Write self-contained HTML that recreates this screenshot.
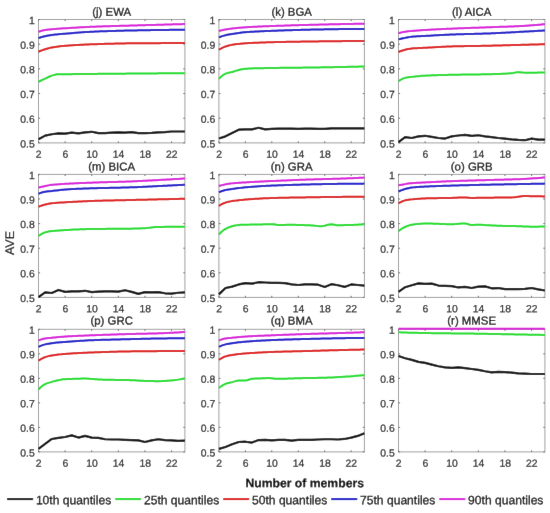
<!DOCTYPE html>
<html><head><meta charset="utf-8"><title>AVE vs Number of members</title>
<style>
html,body{margin:0;padding:0;background:#fff;}
body{width:550px;height:513px;overflow:hidden;font-family:"Liberation Sans",sans-serif;}
svg{display:block;}
</style></head><body>
<svg width="550" height="513" viewBox="0 0 550 513" font-family="Liberation Sans, sans-serif">
<defs><filter id="bl" x="0" y="0" width="550" height="513" filterUnits="userSpaceOnUse"><feConvolveMatrix order="3" kernelMatrix="0.00276 0.04704 0.00276 0.04704 0.80077 0.04704 0.00276 0.04704 0.00276" edgeMode="duplicate"/></filter></defs>
<g filter="url(#bl)">
<rect width="550" height="513" fill="#ffffff"/>
<g><rect x="38.5" y="19.5" width="146.4" height="123.4" fill="none" stroke="#a0a0a0" stroke-width="1"/><path d="M38.5 142.9v-1.6M38.5 19.5v1.6M65.12 142.9v-1.6M65.12 19.5v1.6M91.74 142.9v-1.6M91.74 19.5v1.6M118.35 142.9v-1.6M118.35 19.5v1.6M144.97 142.9v-1.6M144.97 19.5v1.6M171.59 142.9v-1.6M171.59 19.5v1.6M38.5 142.9h1.6M184.9 142.9h-1.6M38.5 118.22h1.6M184.9 118.22h-1.6M38.5 93.54h1.6M184.9 93.54h-1.6M38.5 68.86h1.6M184.9 68.86h-1.6M38.5 44.18h1.6M184.9 44.18h-1.6M38.5 19.5h1.6M184.9 19.5h-1.6" stroke="#6a6a6a" stroke-width="1" fill="none"/><path d="M38.50 139.24 L45.15 135.65 L51.81 134.26 L58.46 133.43 L65.12 133.71 L71.77 132.61 L78.43 133.43 L85.08 132.33 L91.74 131.78 L98.39 133.16 L105.05 133.16 L111.70 132.61 L118.35 132.33 L125.01 132.61 L131.66 132.05 L138.32 133.16 L144.97 133.16 L151.63 132.88 L158.28 132.33 L164.94 132.05 L171.59 131.50 L178.25 131.50 L184.90 131.50" stroke="#000000" stroke-width="2.2" fill="none" stroke-linejoin="round" stroke-linecap="butt"/><path d="M38.50 81.82 L40.16 80.99 L41.83 80.18 L43.49 79.39 L45.15 78.61 L46.82 77.81 L48.48 76.99 L50.15 76.24 L51.81 75.65 L53.47 75.14 L55.14 74.66 L56.80 74.31 L58.46 74.17 L60.13 74.17 L61.79 74.17 L63.45 74.17 L65.12 74.17 L66.78 74.16 L68.45 74.16 L70.11 74.15 L71.77 74.14 L73.44 74.12 L75.10 74.11 L76.76 74.09 L78.43 74.07 L80.09 74.05 L81.75 74.03 L83.42 74.01 L85.08 73.99 L86.75 73.97 L88.41 73.95 L90.07 73.93 L91.74 73.92 L93.40 73.90 L95.06 73.89 L96.73 73.88 L98.39 73.86 L100.05 73.85 L101.72 73.83 L103.38 73.82 L105.05 73.80 L106.71 73.79 L108.37 73.78 L110.04 73.76 L111.70 73.75 L113.36 73.73 L115.03 73.72 L116.69 73.71 L118.35 73.69 L120.02 73.68 L121.68 73.66 L123.35 73.65 L125.01 73.64 L126.67 73.62 L128.34 73.61 L130.00 73.60 L131.66 73.58 L133.33 73.57 L134.99 73.56 L136.65 73.54 L138.32 73.53 L139.98 73.52 L141.65 73.50 L143.31 73.49 L144.97 73.48 L146.64 73.46 L148.30 73.45 L149.96 73.44 L151.63 73.42 L153.29 73.41 L154.95 73.40 L156.62 73.39 L158.28 73.37 L159.95 73.36 L161.61 73.35 L163.27 73.33 L164.94 73.32 L166.60 73.31 L168.26 73.30 L169.93 73.29 L171.59 73.27 L173.25 73.26 L174.92 73.25 L176.58 73.24 L178.25 73.23 L179.91 73.21 L181.57 73.20 L183.24 73.19 L184.90 73.18" stroke="#12dc22" stroke-width="2.0" fill="none" stroke-linejoin="round" stroke-linecap="butt"/><path d="M38.50 51.71 L40.16 51.02 L41.83 50.37 L43.49 49.78 L45.15 49.24 L46.82 48.74 L48.48 48.27 L50.15 47.85 L51.81 47.51 L53.47 47.22 L55.14 46.96 L56.80 46.71 L58.46 46.48 L60.13 46.28 L61.79 46.09 L63.45 45.93 L65.12 45.78 L66.78 45.65 L68.45 45.53 L70.11 45.41 L71.77 45.29 L73.44 45.18 L75.10 45.08 L76.76 44.98 L78.43 44.89 L80.09 44.80 L81.75 44.72 L83.42 44.64 L85.08 44.56 L86.75 44.49 L88.41 44.43 L90.07 44.36 L91.74 44.30 L93.40 44.25 L95.06 44.19 L96.73 44.13 L98.39 44.08 L100.05 44.02 L101.72 43.97 L103.38 43.91 L105.05 43.86 L106.71 43.81 L108.37 43.77 L110.04 43.72 L111.70 43.67 L113.36 43.63 L115.03 43.59 L116.69 43.55 L118.35 43.52 L120.02 43.48 L121.68 43.45 L123.35 43.42 L125.01 43.39 L126.67 43.37 L128.34 43.35 L130.00 43.33 L131.66 43.32 L133.33 43.30 L134.99 43.29 L136.65 43.28 L138.32 43.26 L139.98 43.25 L141.65 43.24 L143.31 43.23 L144.97 43.22 L146.64 43.21 L148.30 43.20 L149.96 43.19 L151.63 43.18 L153.29 43.17 L154.95 43.16 L156.62 43.15 L158.28 43.14 L159.95 43.13 L161.61 43.12 L163.27 43.12 L164.94 43.11 L166.60 43.10 L168.26 43.10 L169.93 43.09 L171.59 43.09 L173.25 43.08 L174.92 43.08 L176.58 43.08 L178.25 43.07 L179.91 43.07 L181.57 43.07 L183.24 43.07 L184.90 43.07" stroke="#dc0a0a" stroke-width="2.0" fill="none" stroke-linejoin="round" stroke-linecap="butt"/><path d="M38.50 38.13 L40.16 37.57 L41.83 37.04 L43.49 36.57 L45.15 36.16 L46.82 35.79 L48.48 35.46 L50.15 35.17 L51.81 34.92 L53.47 34.72 L55.14 34.54 L56.80 34.38 L58.46 34.23 L60.13 34.09 L61.79 33.96 L63.45 33.83 L65.12 33.69 L66.78 33.55 L68.45 33.41 L70.11 33.27 L71.77 33.13 L73.44 32.99 L75.10 32.85 L76.76 32.71 L78.43 32.58 L80.09 32.45 L81.75 32.32 L83.42 32.20 L85.08 32.09 L86.75 31.98 L88.41 31.89 L90.07 31.80 L91.74 31.72 L93.40 31.64 L95.06 31.57 L96.73 31.50 L98.39 31.44 L100.05 31.37 L101.72 31.31 L103.38 31.25 L105.05 31.19 L106.71 31.13 L108.37 31.08 L110.04 31.02 L111.70 30.97 L113.36 30.92 L115.03 30.88 L116.69 30.83 L118.35 30.79 L120.02 30.74 L121.68 30.70 L123.35 30.66 L125.01 30.62 L126.67 30.59 L128.34 30.55 L130.00 30.52 L131.66 30.48 L133.33 30.45 L134.99 30.42 L136.65 30.39 L138.32 30.35 L139.98 30.32 L141.65 30.29 L143.31 30.26 L144.97 30.23 L146.64 30.20 L148.30 30.17 L149.96 30.14 L151.63 30.12 L153.29 30.09 L154.95 30.06 L156.62 30.04 L158.28 30.01 L159.95 29.99 L161.61 29.96 L163.27 29.94 L164.94 29.92 L166.60 29.90 L168.26 29.88 L169.93 29.86 L171.59 29.84 L173.25 29.82 L174.92 29.81 L176.58 29.79 L178.25 29.78 L179.91 29.77 L181.57 29.76 L183.24 29.75 L184.90 29.74" stroke="#0a0ac8" stroke-width="2.0" fill="none" stroke-linejoin="round" stroke-linecap="butt"/><path d="M38.50 31.72 L40.16 31.18 L41.83 30.70 L43.49 30.30 L45.15 29.99 L46.82 29.76 L48.48 29.56 L50.15 29.40 L51.81 29.25 L53.47 29.10 L55.14 28.96 L56.80 28.83 L58.46 28.71 L60.13 28.59 L61.79 28.48 L63.45 28.37 L65.12 28.26 L66.78 28.15 L68.45 28.05 L70.11 27.94 L71.77 27.84 L73.44 27.74 L75.10 27.64 L76.76 27.54 L78.43 27.44 L80.09 27.35 L81.75 27.26 L83.42 27.17 L85.08 27.08 L86.75 27.00 L88.41 26.92 L90.07 26.85 L91.74 26.78 L93.40 26.71 L95.06 26.65 L96.73 26.59 L98.39 26.53 L100.05 26.47 L101.72 26.42 L103.38 26.36 L105.05 26.31 L106.71 26.26 L108.37 26.21 L110.04 26.16 L111.70 26.11 L113.36 26.06 L115.03 26.01 L116.69 25.97 L118.35 25.92 L120.02 25.87 L121.68 25.83 L123.35 25.78 L125.01 25.74 L126.67 25.69 L128.34 25.64 L130.00 25.60 L131.66 25.55 L133.33 25.50 L134.99 25.45 L136.65 25.40 L138.32 25.35 L139.98 25.30 L141.65 25.26 L143.31 25.21 L144.97 25.16 L146.64 25.11 L148.30 25.07 L149.96 25.02 L151.63 24.97 L153.29 24.92 L154.95 24.88 L156.62 24.83 L158.28 24.78 L159.95 24.74 L161.61 24.69 L163.27 24.65 L164.94 24.60 L166.60 24.55 L168.26 24.51 L169.93 24.46 L171.59 24.42 L173.25 24.37 L174.92 24.33 L176.58 24.29 L178.25 24.24 L179.91 24.20 L181.57 24.15 L183.24 24.11 L184.90 24.07" stroke="#d80ad8" stroke-width="2.0" fill="none" stroke-linejoin="round" stroke-linecap="butt"/><text x="34.8" y="147.4" text-anchor="end" font-size="10.4" fill="#2a2a2a" stroke="#2a2a2a" stroke-width="0.25" transform="rotate(0.05 34.8 147.4)">0.5</text><text x="34.8" y="122.72" text-anchor="end" font-size="10.4" fill="#2a2a2a" stroke="#2a2a2a" stroke-width="0.25" transform="rotate(0.05 34.8 122.72)">0.6</text><text x="34.8" y="98.04" text-anchor="end" font-size="10.4" fill="#2a2a2a" stroke="#2a2a2a" stroke-width="0.25" transform="rotate(0.05 34.8 98.04)">0.7</text><text x="34.8" y="73.36" text-anchor="end" font-size="10.4" fill="#2a2a2a" stroke="#2a2a2a" stroke-width="0.25" transform="rotate(0.05 34.8 73.36)">0.8</text><text x="34.8" y="48.68" text-anchor="end" font-size="10.4" fill="#2a2a2a" stroke="#2a2a2a" stroke-width="0.25" transform="rotate(0.05 34.8 48.68)">0.9</text><text x="34.8" y="24" text-anchor="end" font-size="10.4" fill="#2a2a2a" stroke="#2a2a2a" stroke-width="0.25" transform="rotate(0.05 34.8 24)">1</text><text x="38.7" y="157.7" text-anchor="middle" font-size="10.4" fill="#2a2a2a" stroke="#2a2a2a" stroke-width="0.25" transform="rotate(0.05 38.7 157.7)">2</text><text x="65.32" y="157.7" text-anchor="middle" font-size="10.4" fill="#2a2a2a" stroke="#2a2a2a" stroke-width="0.25" transform="rotate(0.05 65.32 157.7)">6</text><text x="91.94" y="157.7" text-anchor="middle" font-size="10.4" fill="#2a2a2a" stroke="#2a2a2a" stroke-width="0.25" transform="rotate(0.05 91.94 157.7)">10</text><text x="118.55" y="157.7" text-anchor="middle" font-size="10.4" fill="#2a2a2a" stroke="#2a2a2a" stroke-width="0.25" transform="rotate(0.05 118.55 157.7)">14</text><text x="145.17" y="157.7" text-anchor="middle" font-size="10.4" fill="#2a2a2a" stroke="#2a2a2a" stroke-width="0.25" transform="rotate(0.05 145.17 157.7)">18</text><text x="171.79" y="157.7" text-anchor="middle" font-size="10.4" fill="#2a2a2a" stroke="#2a2a2a" stroke-width="0.25" transform="rotate(0.05 171.79 157.7)">22</text><text x="111.7" y="15.7" text-anchor="middle" font-size="11.4" fill="#111111" stroke="#111111" stroke-width="0.3" transform="rotate(0.05 111.7 15.7)">(j) EWA</text></g>
<g><rect x="218.9" y="19.5" width="145.5" height="123.4" fill="none" stroke="#a0a0a0" stroke-width="1"/><path d="M218.9 142.9v-1.6M218.9 19.5v1.6M245.35 142.9v-1.6M245.35 19.5v1.6M271.81 142.9v-1.6M271.81 19.5v1.6M298.26 142.9v-1.6M298.26 19.5v1.6M324.72 142.9v-1.6M324.72 19.5v1.6M351.17 142.9v-1.6M351.17 19.5v1.6M218.9 142.9h1.6M364.4 142.9h-1.6M218.9 118.22h1.6M364.4 118.22h-1.6M218.9 93.54h1.6M364.4 93.54h-1.6M218.9 68.86h1.6M364.4 68.86h-1.6M218.9 44.18h1.6M364.4 44.18h-1.6M218.9 19.5h1.6M364.4 19.5h-1.6" stroke="#6a6a6a" stroke-width="1" fill="none"/><path d="M218.90 138.56 L225.51 136.34 L232.13 133.03 L238.74 129.71 L245.35 129.43 L251.97 129.43 L258.58 127.78 L265.20 129.43 L271.81 128.88 L278.42 128.61 L285.04 128.61 L291.65 128.61 L298.26 128.88 L304.88 128.61 L311.49 128.61 L318.10 128.88 L324.72 128.88 L331.33 128.33 L337.95 128.33 L344.56 128.33 L351.17 128.33 L357.79 128.33 L364.40 128.33" stroke="#000000" stroke-width="2.2" fill="none" stroke-linejoin="round" stroke-linecap="butt"/><path d="M218.90 78.86 L220.55 77.20 L222.21 75.72 L223.86 74.52 L225.51 73.67 L227.17 73.12 L228.82 72.72 L230.47 72.35 L232.13 71.94 L233.78 71.45 L235.43 70.92 L237.09 70.41 L238.74 69.97 L240.39 69.58 L242.05 69.21 L243.70 68.91 L245.35 68.74 L247.01 68.65 L248.66 68.57 L250.31 68.49 L251.97 68.43 L253.62 68.37 L255.28 68.32 L256.93 68.28 L258.58 68.24 L260.24 68.20 L261.89 68.17 L263.54 68.14 L265.20 68.11 L266.85 68.08 L268.50 68.05 L270.16 68.02 L271.81 68.00 L273.46 67.97 L275.12 67.94 L276.77 67.92 L278.42 67.89 L280.08 67.87 L281.73 67.85 L283.38 67.83 L285.04 67.81 L286.69 67.79 L288.34 67.77 L290.00 67.75 L291.65 67.74 L293.30 67.72 L294.96 67.70 L296.61 67.68 L298.26 67.67 L299.92 67.65 L301.57 67.63 L303.22 67.61 L304.88 67.59 L306.53 67.57 L308.18 67.55 L309.84 67.53 L311.49 67.50 L313.14 67.48 L314.80 67.45 L316.45 67.43 L318.10 67.40 L319.76 67.38 L321.41 67.35 L323.06 67.32 L324.72 67.29 L326.37 67.27 L328.02 67.24 L329.68 67.21 L331.33 67.18 L332.99 67.15 L334.64 67.12 L336.29 67.09 L337.95 67.06 L339.60 67.03 L341.25 67.00 L342.91 66.96 L344.56 66.93 L346.21 66.90 L347.87 66.87 L349.52 66.83 L351.17 66.80 L352.83 66.76 L354.48 66.73 L356.13 66.69 L357.79 66.66 L359.44 66.62 L361.09 66.59 L362.75 66.55 L364.40 66.52" stroke="#12dc22" stroke-width="2.0" fill="none" stroke-linejoin="round" stroke-linecap="butt"/><path d="M218.90 49.73 L220.55 48.78 L222.21 47.92 L223.86 47.16 L225.51 46.52 L227.17 45.99 L228.82 45.52 L230.47 45.11 L232.13 44.80 L233.78 44.54 L235.43 44.30 L237.09 44.09 L238.74 43.89 L240.39 43.72 L242.05 43.57 L243.70 43.43 L245.35 43.32 L247.01 43.21 L248.66 43.12 L250.31 43.02 L251.97 42.94 L253.62 42.85 L255.28 42.78 L256.93 42.70 L258.58 42.64 L260.24 42.57 L261.89 42.51 L263.54 42.45 L265.20 42.40 L266.85 42.35 L268.50 42.30 L270.16 42.25 L271.81 42.21 L273.46 42.16 L275.12 42.12 L276.77 42.08 L278.42 42.04 L280.08 42.00 L281.73 41.97 L283.38 41.93 L285.04 41.89 L286.69 41.86 L288.34 41.83 L290.00 41.80 L291.65 41.77 L293.30 41.74 L294.96 41.71 L296.61 41.68 L298.26 41.65 L299.92 41.63 L301.57 41.60 L303.22 41.58 L304.88 41.55 L306.53 41.53 L308.18 41.51 L309.84 41.49 L311.49 41.47 L313.14 41.44 L314.80 41.42 L316.45 41.40 L318.10 41.38 L319.76 41.36 L321.41 41.34 L323.06 41.32 L324.72 41.30 L326.37 41.28 L328.02 41.27 L329.68 41.25 L331.33 41.23 L332.99 41.21 L334.64 41.19 L336.29 41.18 L337.95 41.16 L339.60 41.15 L341.25 41.13 L342.91 41.11 L344.56 41.10 L346.21 41.09 L347.87 41.07 L349.52 41.06 L351.17 41.05 L352.83 41.04 L354.48 41.02 L356.13 41.01 L357.79 41.00 L359.44 40.99 L361.09 40.99 L362.75 40.98 L364.40 40.97" stroke="#dc0a0a" stroke-width="2.0" fill="none" stroke-linejoin="round" stroke-linecap="butt"/><path d="M218.90 37.39 L220.55 36.74 L222.21 36.14 L223.86 35.61 L225.51 35.17 L227.17 34.80 L228.82 34.49 L230.47 34.20 L232.13 33.94 L233.78 33.68 L235.43 33.42 L237.09 33.18 L238.74 32.94 L240.39 32.72 L242.05 32.53 L243.70 32.35 L245.35 32.21 L247.01 32.09 L248.66 31.97 L250.31 31.86 L251.97 31.76 L253.62 31.66 L255.28 31.57 L256.93 31.49 L258.58 31.41 L260.24 31.33 L261.89 31.25 L263.54 31.18 L265.20 31.12 L266.85 31.05 L268.50 30.98 L270.16 30.92 L271.81 30.85 L273.46 30.79 L275.12 30.72 L276.77 30.66 L278.42 30.60 L280.08 30.54 L281.73 30.48 L283.38 30.42 L285.04 30.36 L286.69 30.30 L288.34 30.25 L290.00 30.19 L291.65 30.14 L293.30 30.09 L294.96 30.04 L296.61 29.99 L298.26 29.94 L299.92 29.89 L301.57 29.85 L303.22 29.81 L304.88 29.76 L306.53 29.73 L308.18 29.69 L309.84 29.65 L311.49 29.62 L313.14 29.59 L314.80 29.55 L316.45 29.52 L318.10 29.49 L319.76 29.46 L321.41 29.43 L323.06 29.40 L324.72 29.37 L326.37 29.34 L328.02 29.31 L329.68 29.28 L331.33 29.25 L332.99 29.22 L334.64 29.20 L336.29 29.17 L337.95 29.15 L339.60 29.12 L341.25 29.10 L342.91 29.08 L344.56 29.05 L346.21 29.03 L347.87 29.01 L349.52 28.99 L351.17 28.98 L352.83 28.96 L354.48 28.94 L356.13 28.93 L357.79 28.92 L359.44 28.91 L361.09 28.90 L362.75 28.89 L364.40 28.88" stroke="#0a0ac8" stroke-width="2.0" fill="none" stroke-linejoin="round" stroke-linecap="butt"/><path d="M218.90 30.98 L220.55 30.56 L222.21 30.17 L223.86 29.81 L225.51 29.50 L227.17 29.21 L228.82 28.95 L230.47 28.72 L232.13 28.51 L233.78 28.32 L235.43 28.14 L237.09 27.96 L238.74 27.80 L240.39 27.65 L242.05 27.51 L243.70 27.39 L245.35 27.27 L247.01 27.17 L248.66 27.07 L250.31 26.98 L251.97 26.89 L253.62 26.80 L255.28 26.72 L256.93 26.64 L258.58 26.57 L260.24 26.50 L261.89 26.43 L263.54 26.36 L265.20 26.29 L266.85 26.23 L268.50 26.17 L270.16 26.10 L271.81 26.04 L273.46 25.98 L275.12 25.92 L276.77 25.86 L278.42 25.80 L280.08 25.74 L281.73 25.68 L283.38 25.63 L285.04 25.57 L286.69 25.52 L288.34 25.46 L290.00 25.41 L291.65 25.36 L293.30 25.31 L294.96 25.26 L296.61 25.21 L298.26 25.16 L299.92 25.12 L301.57 25.07 L303.22 25.02 L304.88 24.98 L306.53 24.93 L308.18 24.89 L309.84 24.85 L311.49 24.81 L313.14 24.76 L314.80 24.72 L316.45 24.68 L318.10 24.64 L319.76 24.60 L321.41 24.56 L323.06 24.52 L324.72 24.48 L326.37 24.44 L328.02 24.40 L329.68 24.37 L331.33 24.33 L332.99 24.29 L334.64 24.26 L336.29 24.22 L337.95 24.18 L339.60 24.15 L341.25 24.11 L342.91 24.08 L344.56 24.05 L346.21 24.01 L347.87 23.98 L349.52 23.95 L351.17 23.92 L352.83 23.89 L354.48 23.86 L356.13 23.83 L357.79 23.80 L359.44 23.77 L361.09 23.75 L362.75 23.72 L364.40 23.70" stroke="#d80ad8" stroke-width="2.0" fill="none" stroke-linejoin="round" stroke-linecap="butt"/><text x="215.2" y="147.4" text-anchor="end" font-size="10.4" fill="#2a2a2a" stroke="#2a2a2a" stroke-width="0.25" transform="rotate(0.05 215.2 147.4)">0.5</text><text x="215.2" y="122.72" text-anchor="end" font-size="10.4" fill="#2a2a2a" stroke="#2a2a2a" stroke-width="0.25" transform="rotate(0.05 215.2 122.72)">0.6</text><text x="215.2" y="98.04" text-anchor="end" font-size="10.4" fill="#2a2a2a" stroke="#2a2a2a" stroke-width="0.25" transform="rotate(0.05 215.2 98.04)">0.7</text><text x="215.2" y="73.36" text-anchor="end" font-size="10.4" fill="#2a2a2a" stroke="#2a2a2a" stroke-width="0.25" transform="rotate(0.05 215.2 73.36)">0.8</text><text x="215.2" y="48.68" text-anchor="end" font-size="10.4" fill="#2a2a2a" stroke="#2a2a2a" stroke-width="0.25" transform="rotate(0.05 215.2 48.68)">0.9</text><text x="215.2" y="24" text-anchor="end" font-size="10.4" fill="#2a2a2a" stroke="#2a2a2a" stroke-width="0.25" transform="rotate(0.05 215.2 24)">1</text><text x="219.1" y="157.7" text-anchor="middle" font-size="10.4" fill="#2a2a2a" stroke="#2a2a2a" stroke-width="0.25" transform="rotate(0.05 219.1 157.7)">2</text><text x="245.55" y="157.7" text-anchor="middle" font-size="10.4" fill="#2a2a2a" stroke="#2a2a2a" stroke-width="0.25" transform="rotate(0.05 245.55 157.7)">6</text><text x="272.01" y="157.7" text-anchor="middle" font-size="10.4" fill="#2a2a2a" stroke="#2a2a2a" stroke-width="0.25" transform="rotate(0.05 272.01 157.7)">10</text><text x="298.46" y="157.7" text-anchor="middle" font-size="10.4" fill="#2a2a2a" stroke="#2a2a2a" stroke-width="0.25" transform="rotate(0.05 298.46 157.7)">14</text><text x="324.92" y="157.7" text-anchor="middle" font-size="10.4" fill="#2a2a2a" stroke="#2a2a2a" stroke-width="0.25" transform="rotate(0.05 324.92 157.7)">18</text><text x="351.37" y="157.7" text-anchor="middle" font-size="10.4" fill="#2a2a2a" stroke="#2a2a2a" stroke-width="0.25" transform="rotate(0.05 351.37 157.7)">22</text><text x="291.65" y="15.7" text-anchor="middle" font-size="11.4" fill="#111111" stroke="#111111" stroke-width="0.3" transform="rotate(0.05 291.65 15.7)">(k) BGA</text></g>
<g><rect x="398.5" y="19.5" width="146.4" height="123.4" fill="none" stroke="#a0a0a0" stroke-width="1"/><path d="M398.5 142.9v-1.6M398.5 19.5v1.6M425.12 142.9v-1.6M425.12 19.5v1.6M451.74 142.9v-1.6M451.74 19.5v1.6M478.35 142.9v-1.6M478.35 19.5v1.6M504.97 142.9v-1.6M504.97 19.5v1.6M531.59 142.9v-1.6M531.59 19.5v1.6M398.5 142.9h1.6M544.9 142.9h-1.6M398.5 118.22h1.6M544.9 118.22h-1.6M398.5 93.54h1.6M544.9 93.54h-1.6M398.5 68.86h1.6M544.9 68.86h-1.6M398.5 44.18h1.6M544.9 44.18h-1.6M398.5 19.5h1.6M544.9 19.5h-1.6" stroke="#6a6a6a" stroke-width="1" fill="none"/><path d="M398.50 142.15 L405.15 137.17 L411.81 138.00 L418.46 136.34 L425.12 135.79 L431.77 136.90 L438.43 138.00 L445.08 138.56 L451.74 136.34 L458.39 135.52 L465.05 134.96 L471.70 135.79 L478.35 135.24 L485.01 136.34 L491.66 137.17 L498.32 138.00 L504.97 138.56 L511.63 139.39 L518.28 139.94 L524.94 140.21 L531.59 138.56 L538.25 139.66 L544.90 139.66" stroke="#000000" stroke-width="2.2" fill="none" stroke-linejoin="round" stroke-linecap="butt"/><path d="M398.50 81.08 L400.16 80.04 L401.83 79.12 L403.49 78.38 L405.15 77.87 L406.82 77.54 L408.48 77.28 L410.15 77.07 L411.81 76.88 L413.47 76.69 L415.14 76.50 L416.80 76.32 L418.46 76.15 L420.13 76.00 L421.79 75.86 L423.45 75.74 L425.12 75.65 L426.78 75.57 L428.45 75.49 L430.11 75.42 L431.77 75.35 L433.44 75.29 L435.10 75.23 L436.76 75.17 L438.43 75.12 L440.09 75.07 L441.75 75.02 L443.42 74.98 L445.08 74.94 L446.75 74.89 L448.41 74.86 L450.07 74.82 L451.74 74.78 L453.40 74.75 L455.06 74.72 L456.73 74.69 L458.39 74.66 L460.05 74.64 L461.72 74.61 L463.38 74.59 L465.05 74.57 L466.71 74.55 L468.37 74.53 L470.04 74.51 L471.70 74.49 L473.36 74.47 L475.03 74.45 L476.69 74.43 L478.35 74.41 L480.02 74.39 L481.68 74.36 L483.35 74.34 L485.01 74.31 L486.67 74.28 L488.34 74.24 L490.00 74.21 L491.66 74.17 L493.33 74.12 L494.99 74.07 L496.65 74.02 L498.32 73.96 L499.98 73.89 L501.65 73.81 L503.31 73.73 L504.97 73.64 L506.64 73.54 L508.30 73.43 L509.96 73.31 L511.63 73.18 L513.29 72.95 L514.95 72.62 L516.62 72.32 L518.28 72.19 L519.95 72.27 L521.61 72.44 L523.27 72.61 L524.94 72.69 L526.60 72.69 L528.26 72.69 L529.93 72.69 L531.59 72.69 L533.25 72.68 L534.92 72.67 L536.58 72.64 L538.25 72.61 L539.91 72.58 L541.57 72.54 L543.24 72.49 L544.90 72.44" stroke="#12dc22" stroke-width="2.0" fill="none" stroke-linejoin="round" stroke-linecap="butt"/><path d="M398.50 51.95 L400.16 51.30 L401.83 50.70 L403.49 50.18 L405.15 49.73 L406.82 49.35 L408.48 48.99 L410.15 48.70 L411.81 48.50 L413.47 48.36 L415.14 48.25 L416.80 48.15 L418.46 48.07 L420.13 47.99 L421.79 47.92 L423.45 47.84 L425.12 47.76 L426.78 47.67 L428.45 47.57 L430.11 47.48 L431.77 47.38 L433.44 47.28 L435.10 47.19 L436.76 47.09 L438.43 47.00 L440.09 46.90 L441.75 46.82 L443.42 46.73 L445.08 46.65 L446.75 46.58 L448.41 46.51 L450.07 46.45 L451.74 46.40 L453.40 46.36 L455.06 46.31 L456.73 46.27 L458.39 46.24 L460.05 46.20 L461.72 46.17 L463.38 46.14 L465.05 46.11 L466.71 46.08 L468.37 46.05 L470.04 46.03 L471.70 46.00 L473.36 45.98 L475.03 45.95 L476.69 45.93 L478.35 45.90 L480.02 45.88 L481.68 45.85 L483.35 45.82 L485.01 45.79 L486.67 45.76 L488.34 45.73 L490.00 45.70 L491.66 45.66 L493.33 45.62 L494.99 45.58 L496.65 45.54 L498.32 45.49 L499.98 45.45 L501.65 45.40 L503.31 45.35 L504.97 45.30 L506.64 45.25 L508.30 45.20 L509.96 45.16 L511.63 45.11 L513.29 45.06 L514.95 45.01 L516.62 44.97 L518.28 44.92 L519.95 44.88 L521.61 44.83 L523.27 44.79 L524.94 44.75 L526.60 44.70 L528.26 44.66 L529.93 44.62 L531.59 44.58 L533.25 44.54 L534.92 44.50 L536.58 44.45 L538.25 44.41 L539.91 44.37 L541.57 44.33 L543.24 44.29 L544.90 44.25" stroke="#dc0a0a" stroke-width="2.0" fill="none" stroke-linejoin="round" stroke-linecap="butt"/><path d="M398.50 39.37 L400.16 38.97 L401.83 38.59 L403.49 38.23 L405.15 37.89 L406.82 37.53 L408.48 37.18 L410.15 36.87 L411.81 36.65 L413.47 36.51 L415.14 36.40 L416.80 36.30 L418.46 36.22 L420.13 36.14 L421.79 36.07 L423.45 36.00 L425.12 35.91 L426.78 35.82 L428.45 35.73 L430.11 35.64 L431.77 35.55 L433.44 35.46 L435.10 35.37 L436.76 35.28 L438.43 35.19 L440.09 35.10 L441.75 35.01 L443.42 34.93 L445.08 34.85 L446.75 34.77 L448.41 34.69 L450.07 34.62 L451.74 34.55 L453.40 34.49 L455.06 34.43 L456.73 34.37 L458.39 34.32 L460.05 34.27 L461.72 34.22 L463.38 34.17 L465.05 34.12 L466.71 34.07 L468.37 34.03 L470.04 33.98 L471.70 33.94 L473.36 33.89 L475.03 33.85 L476.69 33.80 L478.35 33.76 L480.02 33.71 L481.68 33.66 L483.35 33.61 L485.01 33.56 L486.67 33.50 L488.34 33.44 L490.00 33.38 L491.66 33.32 L493.33 33.25 L494.99 33.18 L496.65 33.11 L498.32 33.03 L499.98 32.95 L501.65 32.86 L503.31 32.78 L504.97 32.69 L506.64 32.60 L508.30 32.51 L509.96 32.42 L511.63 32.33 L513.29 32.23 L514.95 32.14 L516.62 32.05 L518.28 31.96 L519.95 31.87 L521.61 31.79 L523.27 31.70 L524.94 31.61 L526.60 31.51 L528.26 31.42 L529.93 31.33 L531.59 31.24 L533.25 31.15 L534.92 31.05 L536.58 30.96 L538.25 30.86 L539.91 30.77 L541.57 30.67 L543.24 30.58 L544.90 30.48" stroke="#0a0ac8" stroke-width="2.0" fill="none" stroke-linejoin="round" stroke-linecap="butt"/><path d="M398.50 33.20 L400.16 32.75 L401.83 32.35 L403.49 32.00 L405.15 31.72 L406.82 31.49 L408.48 31.30 L410.15 31.13 L411.81 30.98 L413.47 30.83 L415.14 30.69 L416.80 30.56 L418.46 30.43 L420.13 30.32 L421.79 30.20 L423.45 30.09 L425.12 29.99 L426.78 29.89 L428.45 29.79 L430.11 29.69 L431.77 29.60 L433.44 29.51 L435.10 29.42 L436.76 29.33 L438.43 29.25 L440.09 29.17 L441.75 29.09 L443.42 29.01 L445.08 28.93 L446.75 28.85 L448.41 28.78 L450.07 28.70 L451.74 28.63 L453.40 28.56 L455.06 28.49 L456.73 28.42 L458.39 28.36 L460.05 28.29 L461.72 28.23 L463.38 28.16 L465.05 28.10 L466.71 28.04 L468.37 27.98 L470.04 27.92 L471.70 27.86 L473.36 27.80 L475.03 27.74 L476.69 27.68 L478.35 27.63 L480.02 27.57 L481.68 27.51 L483.35 27.45 L485.01 27.39 L486.67 27.33 L488.34 27.27 L490.00 27.21 L491.66 27.15 L493.33 27.09 L494.99 27.03 L496.65 26.98 L498.32 26.92 L499.98 26.86 L501.65 26.81 L503.31 26.75 L504.97 26.70 L506.64 26.64 L508.30 26.58 L509.96 26.52 L511.63 26.46 L513.29 26.39 L514.95 26.32 L516.62 26.24 L518.28 26.16 L519.95 26.08 L521.61 25.99 L523.27 25.89 L524.94 25.79 L526.60 25.68 L528.26 25.56 L529.93 25.44 L531.59 25.32 L533.25 25.19 L534.92 25.06 L536.58 24.92 L538.25 24.78 L539.91 24.64 L541.57 24.49 L543.24 24.34 L544.90 24.19" stroke="#d80ad8" stroke-width="2.0" fill="none" stroke-linejoin="round" stroke-linecap="butt"/><text x="394.8" y="147.4" text-anchor="end" font-size="10.4" fill="#2a2a2a" stroke="#2a2a2a" stroke-width="0.25" transform="rotate(0.05 394.8 147.4)">0.5</text><text x="394.8" y="122.72" text-anchor="end" font-size="10.4" fill="#2a2a2a" stroke="#2a2a2a" stroke-width="0.25" transform="rotate(0.05 394.8 122.72)">0.6</text><text x="394.8" y="98.04" text-anchor="end" font-size="10.4" fill="#2a2a2a" stroke="#2a2a2a" stroke-width="0.25" transform="rotate(0.05 394.8 98.04)">0.7</text><text x="394.8" y="73.36" text-anchor="end" font-size="10.4" fill="#2a2a2a" stroke="#2a2a2a" stroke-width="0.25" transform="rotate(0.05 394.8 73.36)">0.8</text><text x="394.8" y="48.68" text-anchor="end" font-size="10.4" fill="#2a2a2a" stroke="#2a2a2a" stroke-width="0.25" transform="rotate(0.05 394.8 48.68)">0.9</text><text x="394.8" y="24" text-anchor="end" font-size="10.4" fill="#2a2a2a" stroke="#2a2a2a" stroke-width="0.25" transform="rotate(0.05 394.8 24)">1</text><text x="398.7" y="157.7" text-anchor="middle" font-size="10.4" fill="#2a2a2a" stroke="#2a2a2a" stroke-width="0.25" transform="rotate(0.05 398.7 157.7)">2</text><text x="425.32" y="157.7" text-anchor="middle" font-size="10.4" fill="#2a2a2a" stroke="#2a2a2a" stroke-width="0.25" transform="rotate(0.05 425.32 157.7)">6</text><text x="451.94" y="157.7" text-anchor="middle" font-size="10.4" fill="#2a2a2a" stroke="#2a2a2a" stroke-width="0.25" transform="rotate(0.05 451.94 157.7)">10</text><text x="478.55" y="157.7" text-anchor="middle" font-size="10.4" fill="#2a2a2a" stroke="#2a2a2a" stroke-width="0.25" transform="rotate(0.05 478.55 157.7)">14</text><text x="505.17" y="157.7" text-anchor="middle" font-size="10.4" fill="#2a2a2a" stroke="#2a2a2a" stroke-width="0.25" transform="rotate(0.05 505.17 157.7)">18</text><text x="531.79" y="157.7" text-anchor="middle" font-size="10.4" fill="#2a2a2a" stroke="#2a2a2a" stroke-width="0.25" transform="rotate(0.05 531.79 157.7)">22</text><text x="471.7" y="15.7" text-anchor="middle" font-size="11.4" fill="#111111" stroke="#111111" stroke-width="0.3" transform="rotate(0.05 471.7 15.7)">(l) AICA</text></g>
<g><rect x="38.5" y="174.4" width="146.4" height="123" fill="none" stroke="#a0a0a0" stroke-width="1"/><path d="M38.5 297.4v-1.6M38.5 174.4v1.6M65.12 297.4v-1.6M65.12 174.4v1.6M91.74 297.4v-1.6M91.74 174.4v1.6M118.35 297.4v-1.6M118.35 174.4v1.6M144.97 297.4v-1.6M144.97 174.4v1.6M171.59 297.4v-1.6M171.59 174.4v1.6M38.5 297.4h1.6M184.9 297.4h-1.6M38.5 272.8h1.6M184.9 272.8h-1.6M38.5 248.2h1.6M184.9 248.2h-1.6M38.5 223.6h1.6M184.9 223.6h-1.6M38.5 199h1.6M184.9 199h-1.6M38.5 174.4h1.6M184.9 174.4h-1.6" stroke="#6a6a6a" stroke-width="1" fill="none"/><path d="M38.50 297.15 L45.15 292.45 L51.81 293.00 L58.46 289.96 L65.12 291.90 L71.77 291.34 L78.43 291.34 L85.08 290.79 L91.74 292.17 L98.39 291.62 L105.05 291.34 L111.70 291.34 L118.35 291.62 L125.01 290.24 L131.66 291.90 L138.32 293.83 L144.97 292.17 L151.63 292.45 L158.28 292.17 L164.94 293.28 L171.59 293.55 L178.25 292.73 L184.90 292.45" stroke="#000000" stroke-width="2.2" fill="none" stroke-linejoin="round" stroke-linecap="butt"/><path d="M38.50 236.02 L40.16 234.84 L41.83 233.79 L43.49 232.94 L45.15 232.33 L46.82 231.92 L48.48 231.58 L50.15 231.31 L51.81 231.10 L53.47 230.93 L55.14 230.78 L56.80 230.65 L58.46 230.53 L60.13 230.42 L61.79 230.32 L63.45 230.22 L65.12 230.12 L66.78 230.01 L68.45 229.91 L70.11 229.81 L71.77 229.71 L73.44 229.61 L75.10 229.53 L76.76 229.45 L78.43 229.38 L80.09 229.32 L81.75 229.26 L83.42 229.21 L85.08 229.16 L86.75 229.11 L88.41 229.07 L90.07 229.04 L91.74 229.01 L93.40 228.99 L95.06 228.97 L96.73 228.95 L98.39 228.93 L100.05 228.91 L101.72 228.90 L103.38 228.89 L105.05 228.88 L106.71 228.86 L108.37 228.85 L110.04 228.84 L111.70 228.83 L113.36 228.82 L115.03 228.81 L116.69 228.80 L118.35 228.79 L120.02 228.78 L121.68 228.76 L123.35 228.75 L125.01 228.73 L126.67 228.71 L128.34 228.69 L130.00 228.67 L131.66 228.64 L133.33 228.61 L134.99 228.57 L136.65 228.52 L138.32 228.46 L139.98 228.39 L141.65 228.32 L143.31 228.24 L144.97 228.15 L146.64 228.03 L148.30 227.87 L149.96 227.67 L151.63 227.46 L153.29 227.27 L154.95 227.10 L156.62 226.98 L158.28 226.92 L159.95 226.91 L161.61 226.89 L163.27 226.88 L164.94 226.87 L166.60 226.85 L168.26 226.84 L169.93 226.83 L171.59 226.83 L173.25 226.82 L174.92 226.81 L176.58 226.81 L178.25 226.81 L179.91 226.80 L181.57 226.80 L183.24 226.80 L184.90 226.80" stroke="#12dc22" stroke-width="2.0" fill="none" stroke-linejoin="round" stroke-linecap="butt"/><path d="M38.50 206.75 L40.16 206.10 L41.83 205.50 L43.49 204.98 L45.15 204.53 L46.82 204.16 L48.48 203.81 L50.15 203.53 L51.81 203.30 L53.47 203.13 L55.14 202.98 L56.80 202.85 L58.46 202.73 L60.13 202.62 L61.79 202.52 L63.45 202.42 L65.12 202.32 L66.78 202.22 L68.45 202.12 L70.11 202.02 L71.77 201.92 L73.44 201.83 L75.10 201.73 L76.76 201.64 L78.43 201.55 L80.09 201.47 L81.75 201.38 L83.42 201.31 L85.08 201.23 L86.75 201.16 L88.41 201.09 L90.07 201.03 L91.74 200.97 L93.40 200.91 L95.06 200.86 L96.73 200.81 L98.39 200.76 L100.05 200.71 L101.72 200.67 L103.38 200.62 L105.05 200.58 L106.71 200.54 L108.37 200.50 L110.04 200.46 L111.70 200.43 L113.36 200.39 L115.03 200.35 L116.69 200.32 L118.35 200.28 L120.02 200.24 L121.68 200.21 L123.35 200.17 L125.01 200.14 L126.67 200.10 L128.34 200.06 L130.00 200.02 L131.66 199.98 L133.33 199.94 L134.99 199.91 L136.65 199.87 L138.32 199.83 L139.98 199.79 L141.65 199.75 L143.31 199.71 L144.97 199.67 L146.64 199.64 L148.30 199.60 L149.96 199.56 L151.63 199.52 L153.29 199.48 L154.95 199.45 L156.62 199.41 L158.28 199.37 L159.95 199.33 L161.61 199.29 L163.27 199.25 L164.94 199.22 L166.60 199.18 L168.26 199.14 L169.93 199.10 L171.59 199.06 L173.25 199.02 L174.92 198.98 L176.58 198.95 L178.25 198.91 L179.91 198.87 L181.57 198.83 L183.24 198.79 L184.90 198.75" stroke="#dc0a0a" stroke-width="2.0" fill="none" stroke-linejoin="round" stroke-linecap="butt"/><path d="M38.50 193.71 L40.16 193.09 L41.83 192.54 L43.49 192.08 L45.15 191.74 L46.82 191.51 L48.48 191.33 L50.15 191.17 L51.81 191.00 L53.47 190.81 L55.14 190.61 L56.80 190.40 L58.46 190.20 L60.13 190.00 L61.79 189.82 L63.45 189.66 L65.12 189.53 L66.78 189.42 L68.45 189.31 L70.11 189.22 L71.77 189.12 L73.44 189.03 L75.10 188.95 L76.76 188.87 L78.43 188.80 L80.09 188.72 L81.75 188.66 L83.42 188.59 L85.08 188.53 L86.75 188.47 L88.41 188.41 L90.07 188.35 L91.74 188.30 L93.40 188.25 L95.06 188.20 L96.73 188.15 L98.39 188.10 L100.05 188.06 L101.72 188.02 L103.38 187.98 L105.05 187.95 L106.71 187.91 L108.37 187.88 L110.04 187.84 L111.70 187.81 L113.36 187.77 L115.03 187.74 L116.69 187.70 L118.35 187.67 L120.02 187.63 L121.68 187.59 L123.35 187.55 L125.01 187.51 L126.67 187.46 L128.34 187.42 L130.00 187.37 L131.66 187.31 L133.33 187.26 L134.99 187.20 L136.65 187.13 L138.32 187.06 L139.98 186.99 L141.65 186.91 L143.31 186.83 L144.97 186.75 L146.64 186.67 L148.30 186.59 L149.96 186.50 L151.63 186.42 L153.29 186.33 L154.95 186.25 L156.62 186.17 L158.28 186.08 L159.95 186.00 L161.61 185.92 L163.27 185.84 L164.94 185.76 L166.60 185.68 L168.26 185.59 L169.93 185.51 L171.59 185.42 L173.25 185.34 L174.92 185.25 L176.58 185.17 L178.25 185.08 L179.91 185.00 L181.57 184.91 L183.24 184.82 L184.90 184.73" stroke="#0a0ac8" stroke-width="2.0" fill="none" stroke-linejoin="round" stroke-linecap="butt"/><path d="M38.50 187.56 L40.16 187.17 L41.83 186.79 L43.49 186.43 L45.15 186.08 L46.82 185.74 L48.48 185.39 L50.15 185.09 L51.81 184.86 L53.47 184.68 L55.14 184.53 L56.80 184.40 L58.46 184.28 L60.13 184.17 L61.79 184.06 L63.45 183.97 L65.12 183.87 L66.78 183.78 L68.45 183.68 L70.11 183.59 L71.77 183.51 L73.44 183.42 L75.10 183.34 L76.76 183.26 L78.43 183.19 L80.09 183.11 L81.75 183.04 L83.42 182.97 L85.08 182.90 L86.75 182.83 L88.41 182.77 L90.07 182.70 L91.74 182.64 L93.40 182.58 L95.06 182.52 L96.73 182.47 L98.39 182.41 L100.05 182.36 L101.72 182.31 L103.38 182.26 L105.05 182.22 L106.71 182.17 L108.37 182.12 L110.04 182.08 L111.70 182.03 L113.36 181.99 L115.03 181.94 L116.69 181.90 L118.35 181.85 L120.02 181.80 L121.68 181.75 L123.35 181.70 L125.01 181.65 L126.67 181.59 L128.34 181.53 L130.00 181.47 L131.66 181.41 L133.33 181.34 L134.99 181.27 L136.65 181.20 L138.32 181.12 L139.98 181.04 L141.65 180.96 L143.31 180.87 L144.97 180.79 L146.64 180.70 L148.30 180.61 L149.96 180.52 L151.63 180.43 L153.29 180.33 L154.95 180.24 L156.62 180.15 L158.28 180.06 L159.95 179.97 L161.61 179.87 L163.27 179.78 L164.94 179.68 L166.60 179.59 L168.26 179.49 L169.93 179.39 L171.59 179.29 L173.25 179.19 L174.92 179.09 L176.58 178.99 L178.25 178.88 L179.91 178.78 L181.57 178.67 L183.24 178.57 L184.90 178.46" stroke="#d80ad8" stroke-width="2.0" fill="none" stroke-linejoin="round" stroke-linecap="butt"/><text x="34.8" y="301.9" text-anchor="end" font-size="10.4" fill="#2a2a2a" stroke="#2a2a2a" stroke-width="0.25" transform="rotate(0.05 34.8 301.9)">0.5</text><text x="34.8" y="277.3" text-anchor="end" font-size="10.4" fill="#2a2a2a" stroke="#2a2a2a" stroke-width="0.25" transform="rotate(0.05 34.8 277.3)">0.6</text><text x="34.8" y="252.7" text-anchor="end" font-size="10.4" fill="#2a2a2a" stroke="#2a2a2a" stroke-width="0.25" transform="rotate(0.05 34.8 252.7)">0.7</text><text x="34.8" y="228.1" text-anchor="end" font-size="10.4" fill="#2a2a2a" stroke="#2a2a2a" stroke-width="0.25" transform="rotate(0.05 34.8 228.1)">0.8</text><text x="34.8" y="203.5" text-anchor="end" font-size="10.4" fill="#2a2a2a" stroke="#2a2a2a" stroke-width="0.25" transform="rotate(0.05 34.8 203.5)">0.9</text><text x="34.8" y="178.9" text-anchor="end" font-size="10.4" fill="#2a2a2a" stroke="#2a2a2a" stroke-width="0.25" transform="rotate(0.05 34.8 178.9)">1</text><text x="38.7" y="312.2" text-anchor="middle" font-size="10.4" fill="#2a2a2a" stroke="#2a2a2a" stroke-width="0.25" transform="rotate(0.05 38.7 312.2)">2</text><text x="65.32" y="312.2" text-anchor="middle" font-size="10.4" fill="#2a2a2a" stroke="#2a2a2a" stroke-width="0.25" transform="rotate(0.05 65.32 312.2)">6</text><text x="91.94" y="312.2" text-anchor="middle" font-size="10.4" fill="#2a2a2a" stroke="#2a2a2a" stroke-width="0.25" transform="rotate(0.05 91.94 312.2)">10</text><text x="118.55" y="312.2" text-anchor="middle" font-size="10.4" fill="#2a2a2a" stroke="#2a2a2a" stroke-width="0.25" transform="rotate(0.05 118.55 312.2)">14</text><text x="145.17" y="312.2" text-anchor="middle" font-size="10.4" fill="#2a2a2a" stroke="#2a2a2a" stroke-width="0.25" transform="rotate(0.05 145.17 312.2)">18</text><text x="171.79" y="312.2" text-anchor="middle" font-size="10.4" fill="#2a2a2a" stroke="#2a2a2a" stroke-width="0.25" transform="rotate(0.05 171.79 312.2)">22</text><text x="111.7" y="170.4" text-anchor="middle" font-size="11.4" fill="#111111" stroke="#111111" stroke-width="0.3" transform="rotate(0.05 111.7 170.4)">(m) BICA</text></g>
<g><rect x="218.9" y="174.4" width="145.5" height="123" fill="none" stroke="#a0a0a0" stroke-width="1"/><path d="M218.9 297.4v-1.6M218.9 174.4v1.6M245.35 297.4v-1.6M245.35 174.4v1.6M271.81 297.4v-1.6M271.81 174.4v1.6M298.26 297.4v-1.6M298.26 174.4v1.6M324.72 297.4v-1.6M324.72 174.4v1.6M351.17 297.4v-1.6M351.17 174.4v1.6M218.9 297.4h1.6M364.4 297.4h-1.6M218.9 272.8h1.6M364.4 272.8h-1.6M218.9 248.2h1.6M364.4 248.2h-1.6M218.9 223.6h1.6M364.4 223.6h-1.6M218.9 199h1.6M364.4 199h-1.6M218.9 174.4h1.6M364.4 174.4h-1.6" stroke="#6a6a6a" stroke-width="1" fill="none"/><path d="M218.90 294.38 L225.51 288.03 L232.13 286.64 L238.74 284.43 L245.35 283.05 L251.97 283.60 L258.58 282.22 L265.20 282.50 L271.81 282.78 L278.42 282.78 L285.04 283.05 L291.65 284.43 L298.26 284.99 L304.88 284.43 L311.49 284.43 L318.10 284.71 L324.72 286.92 L331.33 284.16 L337.95 285.26 L344.56 286.92 L351.17 284.43 L357.79 284.99 L364.40 285.54" stroke="#000000" stroke-width="2.2" fill="none" stroke-linejoin="round" stroke-linecap="butt"/><path d="M218.90 234.55 L220.55 232.83 L222.21 231.28 L223.86 229.95 L225.51 228.89 L227.17 228.03 L228.82 227.29 L230.47 226.67 L232.13 226.18 L233.78 225.77 L235.43 225.41 L237.09 225.12 L238.74 224.95 L240.39 224.86 L242.05 224.80 L243.70 224.75 L245.35 224.71 L247.01 224.67 L248.66 224.63 L250.31 224.60 L251.97 224.57 L253.62 224.54 L255.28 224.52 L256.93 224.49 L258.58 224.46 L260.24 224.43 L261.89 224.39 L263.54 224.35 L265.20 224.31 L266.85 224.27 L268.50 224.24 L270.16 224.22 L271.81 224.21 L273.46 224.33 L275.12 224.58 L276.77 224.84 L278.42 224.95 L280.08 224.95 L281.73 224.93 L283.38 224.91 L285.04 224.89 L286.69 224.87 L288.34 224.85 L290.00 224.84 L291.65 224.83 L293.30 224.84 L294.96 224.85 L296.61 224.88 L298.26 224.92 L299.92 224.97 L301.57 225.02 L303.22 225.08 L304.88 225.15 L306.53 225.22 L308.18 225.29 L309.84 225.37 L311.49 225.44 L313.14 225.55 L314.80 225.70 L316.45 225.87 L318.10 226.03 L319.76 226.14 L321.41 226.18 L323.06 226.05 L324.72 225.70 L326.37 225.26 L328.02 224.82 L329.68 224.47 L331.33 224.34 L332.99 224.49 L334.64 224.83 L336.29 225.17 L337.95 225.32 L339.60 225.29 L341.25 225.22 L342.91 225.14 L344.56 225.08 L346.21 225.04 L347.87 225.02 L349.52 224.99 L351.17 224.95 L352.83 224.90 L354.48 224.84 L356.13 224.76 L357.79 224.67 L359.44 224.57 L361.09 224.46 L362.75 224.34 L364.40 224.21" stroke="#12dc22" stroke-width="2.0" fill="none" stroke-linejoin="round" stroke-linecap="butt"/><path d="M218.90 206.01 L220.55 204.95 L222.21 203.99 L223.86 203.19 L225.51 202.57 L227.17 202.09 L228.82 201.70 L230.47 201.37 L232.13 201.09 L233.78 200.85 L235.43 200.62 L237.09 200.42 L238.74 200.23 L240.39 200.06 L242.05 199.90 L243.70 199.75 L245.35 199.61 L247.01 199.48 L248.66 199.35 L250.31 199.22 L251.97 199.10 L253.62 198.98 L255.28 198.86 L256.93 198.75 L258.58 198.64 L260.24 198.54 L261.89 198.45 L263.54 198.36 L265.20 198.27 L266.85 198.20 L268.50 198.13 L270.16 198.07 L271.81 198.02 L273.46 197.97 L275.12 197.92 L276.77 197.88 L278.42 197.84 L280.08 197.80 L281.73 197.77 L283.38 197.73 L285.04 197.70 L286.69 197.67 L288.34 197.64 L290.00 197.61 L291.65 197.58 L293.30 197.55 L294.96 197.53 L296.61 197.50 L298.26 197.48 L299.92 197.45 L301.57 197.43 L303.22 197.40 L304.88 197.38 L306.53 197.35 L308.18 197.33 L309.84 197.30 L311.49 197.28 L313.14 197.25 L314.80 197.22 L316.45 197.20 L318.10 197.17 L319.76 197.14 L321.41 197.12 L323.06 197.09 L324.72 197.06 L326.37 197.04 L328.02 197.02 L329.68 196.99 L331.33 196.97 L332.99 196.95 L334.64 196.94 L336.29 196.92 L337.95 196.91 L339.60 196.90 L341.25 196.89 L342.91 196.87 L344.56 196.86 L346.21 196.85 L347.87 196.84 L349.52 196.83 L351.17 196.82 L352.83 196.82 L354.48 196.81 L356.13 196.80 L357.79 196.80 L359.44 196.79 L361.09 196.79 L362.75 196.79 L364.40 196.79" stroke="#dc0a0a" stroke-width="2.0" fill="none" stroke-linejoin="round" stroke-linecap="butt"/><path d="M218.90 192.23 L220.55 191.56 L222.21 190.94 L223.86 190.43 L225.51 190.02 L227.17 189.72 L228.82 189.47 L230.47 189.26 L232.13 189.04 L233.78 188.80 L235.43 188.56 L237.09 188.33 L238.74 188.09 L240.39 187.87 L242.05 187.66 L243.70 187.48 L245.35 187.31 L247.01 187.17 L248.66 187.03 L250.31 186.89 L251.97 186.76 L253.62 186.64 L255.28 186.52 L256.93 186.41 L258.58 186.30 L260.24 186.19 L261.89 186.09 L263.54 186.00 L265.20 185.91 L266.85 185.82 L268.50 185.74 L270.16 185.67 L271.81 185.59 L273.46 185.52 L275.12 185.46 L276.77 185.39 L278.42 185.33 L280.08 185.26 L281.73 185.20 L283.38 185.15 L285.04 185.09 L286.69 185.03 L288.34 184.98 L290.00 184.93 L291.65 184.88 L293.30 184.83 L294.96 184.78 L296.61 184.74 L298.26 184.69 L299.92 184.65 L301.57 184.60 L303.22 184.56 L304.88 184.52 L306.53 184.48 L308.18 184.44 L309.84 184.40 L311.49 184.36 L313.14 184.33 L314.80 184.29 L316.45 184.25 L318.10 184.22 L319.76 184.18 L321.41 184.15 L323.06 184.11 L324.72 184.08 L326.37 184.05 L328.02 184.02 L329.68 183.99 L331.33 183.97 L332.99 183.94 L334.64 183.92 L336.29 183.89 L337.95 183.87 L339.60 183.85 L341.25 183.83 L342.91 183.81 L344.56 183.79 L346.21 183.77 L347.87 183.76 L349.52 183.74 L351.17 183.72 L352.83 183.71 L354.48 183.69 L356.13 183.68 L357.79 183.67 L359.44 183.65 L361.09 183.64 L362.75 183.63 L364.40 183.62" stroke="#0a0ac8" stroke-width="2.0" fill="none" stroke-linejoin="round" stroke-linecap="butt"/><path d="M218.90 186.08 L220.55 185.58 L222.21 185.12 L223.86 184.71 L225.51 184.36 L227.17 184.07 L228.82 183.80 L230.47 183.57 L232.13 183.38 L233.78 183.22 L235.43 183.07 L237.09 182.94 L238.74 182.82 L240.39 182.71 L242.05 182.60 L243.70 182.50 L245.35 182.39 L247.01 182.29 L248.66 182.20 L250.31 182.10 L251.97 182.01 L253.62 181.92 L255.28 181.83 L256.93 181.75 L258.58 181.66 L260.24 181.58 L261.89 181.50 L263.54 181.42 L265.20 181.35 L266.85 181.27 L268.50 181.19 L270.16 181.12 L271.81 181.04 L273.46 180.97 L275.12 180.89 L276.77 180.82 L278.42 180.74 L280.08 180.67 L281.73 180.60 L283.38 180.53 L285.04 180.46 L286.69 180.39 L288.34 180.32 L290.00 180.25 L291.65 180.18 L293.30 180.11 L294.96 180.05 L296.61 179.98 L298.26 179.92 L299.92 179.85 L301.57 179.79 L303.22 179.73 L304.88 179.67 L306.53 179.61 L308.18 179.55 L309.84 179.50 L311.49 179.44 L313.14 179.39 L314.80 179.34 L316.45 179.29 L318.10 179.25 L319.76 179.20 L321.41 179.16 L323.06 179.12 L324.72 179.08 L326.37 179.03 L328.02 178.99 L329.68 178.95 L331.33 178.90 L332.99 178.86 L334.64 178.81 L336.29 178.76 L337.95 178.70 L339.60 178.65 L341.25 178.59 L342.91 178.53 L344.56 178.47 L346.21 178.40 L347.87 178.34 L349.52 178.27 L351.17 178.20 L352.83 178.13 L354.48 178.06 L356.13 177.99 L357.79 177.91 L359.44 177.83 L361.09 177.76 L362.75 177.68 L364.40 177.60" stroke="#d80ad8" stroke-width="2.0" fill="none" stroke-linejoin="round" stroke-linecap="butt"/><text x="215.2" y="301.9" text-anchor="end" font-size="10.4" fill="#2a2a2a" stroke="#2a2a2a" stroke-width="0.25" transform="rotate(0.05 215.2 301.9)">0.5</text><text x="215.2" y="277.3" text-anchor="end" font-size="10.4" fill="#2a2a2a" stroke="#2a2a2a" stroke-width="0.25" transform="rotate(0.05 215.2 277.3)">0.6</text><text x="215.2" y="252.7" text-anchor="end" font-size="10.4" fill="#2a2a2a" stroke="#2a2a2a" stroke-width="0.25" transform="rotate(0.05 215.2 252.7)">0.7</text><text x="215.2" y="228.1" text-anchor="end" font-size="10.4" fill="#2a2a2a" stroke="#2a2a2a" stroke-width="0.25" transform="rotate(0.05 215.2 228.1)">0.8</text><text x="215.2" y="203.5" text-anchor="end" font-size="10.4" fill="#2a2a2a" stroke="#2a2a2a" stroke-width="0.25" transform="rotate(0.05 215.2 203.5)">0.9</text><text x="215.2" y="178.9" text-anchor="end" font-size="10.4" fill="#2a2a2a" stroke="#2a2a2a" stroke-width="0.25" transform="rotate(0.05 215.2 178.9)">1</text><text x="219.1" y="312.2" text-anchor="middle" font-size="10.4" fill="#2a2a2a" stroke="#2a2a2a" stroke-width="0.25" transform="rotate(0.05 219.1 312.2)">2</text><text x="245.55" y="312.2" text-anchor="middle" font-size="10.4" fill="#2a2a2a" stroke="#2a2a2a" stroke-width="0.25" transform="rotate(0.05 245.55 312.2)">6</text><text x="272.01" y="312.2" text-anchor="middle" font-size="10.4" fill="#2a2a2a" stroke="#2a2a2a" stroke-width="0.25" transform="rotate(0.05 272.01 312.2)">10</text><text x="298.46" y="312.2" text-anchor="middle" font-size="10.4" fill="#2a2a2a" stroke="#2a2a2a" stroke-width="0.25" transform="rotate(0.05 298.46 312.2)">14</text><text x="324.92" y="312.2" text-anchor="middle" font-size="10.4" fill="#2a2a2a" stroke="#2a2a2a" stroke-width="0.25" transform="rotate(0.05 324.92 312.2)">18</text><text x="351.37" y="312.2" text-anchor="middle" font-size="10.4" fill="#2a2a2a" stroke="#2a2a2a" stroke-width="0.25" transform="rotate(0.05 351.37 312.2)">22</text><text x="291.65" y="170.4" text-anchor="middle" font-size="11.4" fill="#111111" stroke="#111111" stroke-width="0.3" transform="rotate(0.05 291.65 170.4)">(n) GRA</text></g>
<g><rect x="398.5" y="174.4" width="146.4" height="123" fill="none" stroke="#a0a0a0" stroke-width="1"/><path d="M398.5 297.4v-1.6M398.5 174.4v1.6M425.12 297.4v-1.6M425.12 174.4v1.6M451.74 297.4v-1.6M451.74 174.4v1.6M478.35 297.4v-1.6M478.35 174.4v1.6M504.97 297.4v-1.6M504.97 174.4v1.6M531.59 297.4v-1.6M531.59 174.4v1.6M398.5 297.4h1.6M544.9 297.4h-1.6M398.5 272.8h1.6M544.9 272.8h-1.6M398.5 248.2h1.6M544.9 248.2h-1.6M398.5 223.6h1.6M544.9 223.6h-1.6M398.5 199h1.6M544.9 199h-1.6M398.5 174.4h1.6M544.9 174.4h-1.6" stroke="#6a6a6a" stroke-width="1" fill="none"/><path d="M398.50 291.90 L405.15 287.20 L411.81 285.26 L418.46 283.33 L425.12 283.88 L431.77 283.60 L438.43 285.54 L445.08 285.82 L451.74 286.09 L458.39 287.47 L465.05 286.92 L471.70 288.03 L478.35 286.64 L485.01 286.37 L491.66 288.30 L498.32 288.03 L504.97 289.13 L511.63 289.13 L518.28 289.13 L524.94 288.86 L531.59 288.03 L538.25 289.41 L544.90 290.51" stroke="#000000" stroke-width="2.2" fill="none" stroke-linejoin="round" stroke-linecap="butt"/><path d="M398.50 231.10 L400.16 229.86 L401.83 228.73 L403.49 227.74 L405.15 226.92 L406.82 226.22 L408.48 225.59 L410.15 225.07 L411.81 224.71 L413.47 224.46 L415.14 224.27 L416.80 224.12 L418.46 223.97 L420.13 223.81 L421.79 223.65 L423.45 223.53 L425.12 223.48 L426.78 223.49 L428.45 223.51 L430.11 223.55 L431.77 223.59 L433.44 223.65 L435.10 223.71 L436.76 223.78 L438.43 223.85 L440.09 223.91 L441.75 223.98 L443.42 224.04 L445.08 224.10 L446.75 224.15 L448.41 224.18 L450.07 224.21 L451.74 224.21 L453.40 224.18 L455.06 224.10 L456.73 223.98 L458.39 223.85 L460.05 223.71 L461.72 223.59 L463.38 223.51 L465.05 223.48 L466.71 223.71 L468.37 224.21 L470.04 224.72 L471.70 224.95 L473.36 224.91 L475.03 224.83 L476.69 224.75 L478.35 224.71 L480.02 224.73 L481.68 224.79 L483.35 224.89 L485.01 225.00 L486.67 225.13 L488.34 225.25 L490.00 225.36 L491.66 225.44 L493.33 225.52 L494.99 225.59 L496.65 225.66 L498.32 225.72 L499.98 225.79 L501.65 225.84 L503.31 225.89 L504.97 225.94 L506.64 225.97 L508.30 226.01 L509.96 226.03 L511.63 226.06 L513.29 226.09 L514.95 226.11 L516.62 226.15 L518.28 226.18 L519.95 226.24 L521.61 226.31 L523.27 226.39 L524.94 226.47 L526.60 226.55 L528.26 226.61 L529.93 226.66 L531.59 226.67 L533.25 226.67 L534.92 226.67 L536.58 226.65 L538.25 226.63 L539.91 226.60 L541.57 226.55 L543.24 226.50 L544.90 226.43" stroke="#12dc22" stroke-width="2.0" fill="none" stroke-linejoin="round" stroke-linecap="butt"/><path d="M398.50 203.30 L400.16 202.36 L401.83 201.52 L403.49 200.84 L405.15 200.35 L406.82 200.02 L408.48 199.76 L410.15 199.55 L411.81 199.37 L413.47 199.20 L415.14 199.04 L416.80 198.90 L418.46 198.76 L420.13 198.64 L421.79 198.53 L423.45 198.45 L425.12 198.38 L426.78 198.34 L428.45 198.29 L430.11 198.25 L431.77 198.22 L433.44 198.19 L435.10 198.17 L436.76 198.14 L438.43 198.12 L440.09 198.10 L441.75 198.07 L443.42 198.05 L445.08 198.03 L446.75 198.00 L448.41 197.97 L450.07 197.93 L451.74 197.89 L453.40 197.84 L455.06 197.77 L456.73 197.69 L458.39 197.60 L460.05 197.53 L461.72 197.46 L463.38 197.42 L465.05 197.40 L466.71 197.48 L468.37 197.65 L470.04 197.82 L471.70 197.89 L473.36 197.89 L475.03 197.88 L476.69 197.87 L478.35 197.85 L480.02 197.83 L481.68 197.80 L483.35 197.77 L485.01 197.75 L486.67 197.72 L488.34 197.69 L490.00 197.67 L491.66 197.65 L493.33 197.63 L494.99 197.61 L496.65 197.60 L498.32 197.58 L499.98 197.57 L501.65 197.55 L503.31 197.53 L504.97 197.52 L506.64 197.49 L508.30 197.47 L509.96 197.44 L511.63 197.40 L513.29 197.31 L514.95 197.15 L516.62 196.93 L518.28 196.69 L519.95 196.45 L521.61 196.24 L523.27 196.10 L524.94 196.05 L526.60 196.06 L528.26 196.09 L529.93 196.13 L531.59 196.17 L533.25 196.20 L534.92 196.23 L536.58 196.26 L538.25 196.29 L539.91 196.32 L541.57 196.36 L543.24 196.39 L544.90 196.42" stroke="#dc0a0a" stroke-width="2.0" fill="none" stroke-linejoin="round" stroke-linecap="butt"/><path d="M398.50 191.50 L400.16 190.78 L401.83 190.13 L403.49 189.54 L405.15 189.04 L406.82 188.58 L408.48 188.17 L410.15 187.82 L411.81 187.56 L413.47 187.38 L415.14 187.22 L416.80 187.08 L418.46 186.96 L420.13 186.85 L421.79 186.75 L423.45 186.66 L425.12 186.58 L426.78 186.49 L428.45 186.42 L430.11 186.34 L431.77 186.27 L433.44 186.20 L435.10 186.14 L436.76 186.07 L438.43 186.01 L440.09 185.96 L441.75 185.90 L443.42 185.85 L445.08 185.80 L446.75 185.74 L448.41 185.69 L450.07 185.64 L451.74 185.59 L453.40 185.54 L455.06 185.50 L456.73 185.45 L458.39 185.40 L460.05 185.36 L461.72 185.31 L463.38 185.27 L465.05 185.22 L466.71 185.18 L468.37 185.14 L470.04 185.10 L471.70 185.06 L473.36 185.02 L475.03 184.98 L476.69 184.94 L478.35 184.90 L480.02 184.86 L481.68 184.82 L483.35 184.79 L485.01 184.75 L486.67 184.71 L488.34 184.68 L490.00 184.64 L491.66 184.61 L493.33 184.57 L494.99 184.54 L496.65 184.51 L498.32 184.48 L499.98 184.45 L501.65 184.41 L503.31 184.38 L504.97 184.35 L506.64 184.33 L508.30 184.30 L509.96 184.27 L511.63 184.24 L513.29 184.21 L514.95 184.18 L516.62 184.15 L518.28 184.12 L519.95 184.09 L521.61 184.06 L523.27 184.02 L524.94 183.99 L526.60 183.96 L528.26 183.93 L529.93 183.90 L531.59 183.87 L533.25 183.84 L534.92 183.81 L536.58 183.78 L538.25 183.75 L539.91 183.72 L541.57 183.69 L543.24 183.66 L544.90 183.62" stroke="#0a0ac8" stroke-width="2.0" fill="none" stroke-linejoin="round" stroke-linecap="butt"/><path d="M398.50 185.35 L400.16 185.02 L401.83 184.70 L403.49 184.40 L405.15 184.12 L406.82 183.84 L408.48 183.56 L410.15 183.31 L411.81 183.13 L413.47 183.00 L415.14 182.89 L416.80 182.79 L418.46 182.71 L420.13 182.63 L421.79 182.55 L423.45 182.48 L425.12 182.39 L426.78 182.31 L428.45 182.23 L430.11 182.14 L431.77 182.06 L433.44 181.98 L435.10 181.89 L436.76 181.81 L438.43 181.74 L440.09 181.66 L441.75 181.58 L443.42 181.51 L445.08 181.43 L446.75 181.36 L448.41 181.29 L450.07 181.23 L451.74 181.16 L453.40 181.10 L455.06 181.04 L456.73 180.98 L458.39 180.93 L460.05 180.87 L461.72 180.82 L463.38 180.76 L465.05 180.71 L466.71 180.66 L468.37 180.61 L470.04 180.56 L471.70 180.51 L473.36 180.46 L475.03 180.41 L476.69 180.36 L478.35 180.32 L480.02 180.27 L481.68 180.22 L483.35 180.17 L485.01 180.13 L486.67 180.08 L488.34 180.03 L490.00 179.98 L491.66 179.94 L493.33 179.89 L494.99 179.84 L496.65 179.80 L498.32 179.76 L499.98 179.72 L501.65 179.68 L503.31 179.64 L504.97 179.60 L506.64 179.56 L508.30 179.51 L509.96 179.47 L511.63 179.42 L513.29 179.37 L514.95 179.32 L516.62 179.26 L518.28 179.20 L519.95 179.13 L521.61 179.05 L523.27 178.97 L524.94 178.89 L526.60 178.79 L528.26 178.70 L529.93 178.59 L531.59 178.48 L533.25 178.37 L534.92 178.25 L536.58 178.13 L538.25 178.01 L539.91 177.88 L541.57 177.75 L543.24 177.61 L544.90 177.47" stroke="#d80ad8" stroke-width="2.0" fill="none" stroke-linejoin="round" stroke-linecap="butt"/><text x="394.8" y="301.9" text-anchor="end" font-size="10.4" fill="#2a2a2a" stroke="#2a2a2a" stroke-width="0.25" transform="rotate(0.05 394.8 301.9)">0.5</text><text x="394.8" y="277.3" text-anchor="end" font-size="10.4" fill="#2a2a2a" stroke="#2a2a2a" stroke-width="0.25" transform="rotate(0.05 394.8 277.3)">0.6</text><text x="394.8" y="252.7" text-anchor="end" font-size="10.4" fill="#2a2a2a" stroke="#2a2a2a" stroke-width="0.25" transform="rotate(0.05 394.8 252.7)">0.7</text><text x="394.8" y="228.1" text-anchor="end" font-size="10.4" fill="#2a2a2a" stroke="#2a2a2a" stroke-width="0.25" transform="rotate(0.05 394.8 228.1)">0.8</text><text x="394.8" y="203.5" text-anchor="end" font-size="10.4" fill="#2a2a2a" stroke="#2a2a2a" stroke-width="0.25" transform="rotate(0.05 394.8 203.5)">0.9</text><text x="394.8" y="178.9" text-anchor="end" font-size="10.4" fill="#2a2a2a" stroke="#2a2a2a" stroke-width="0.25" transform="rotate(0.05 394.8 178.9)">1</text><text x="398.7" y="312.2" text-anchor="middle" font-size="10.4" fill="#2a2a2a" stroke="#2a2a2a" stroke-width="0.25" transform="rotate(0.05 398.7 312.2)">2</text><text x="425.32" y="312.2" text-anchor="middle" font-size="10.4" fill="#2a2a2a" stroke="#2a2a2a" stroke-width="0.25" transform="rotate(0.05 425.32 312.2)">6</text><text x="451.94" y="312.2" text-anchor="middle" font-size="10.4" fill="#2a2a2a" stroke="#2a2a2a" stroke-width="0.25" transform="rotate(0.05 451.94 312.2)">10</text><text x="478.55" y="312.2" text-anchor="middle" font-size="10.4" fill="#2a2a2a" stroke="#2a2a2a" stroke-width="0.25" transform="rotate(0.05 478.55 312.2)">14</text><text x="505.17" y="312.2" text-anchor="middle" font-size="10.4" fill="#2a2a2a" stroke="#2a2a2a" stroke-width="0.25" transform="rotate(0.05 505.17 312.2)">18</text><text x="531.79" y="312.2" text-anchor="middle" font-size="10.4" fill="#2a2a2a" stroke="#2a2a2a" stroke-width="0.25" transform="rotate(0.05 531.79 312.2)">22</text><text x="471.7" y="170.4" text-anchor="middle" font-size="11.4" fill="#111111" stroke="#111111" stroke-width="0.3" transform="rotate(0.05 471.7 170.4)">(o) GRB</text></g>
<g><rect x="38.5" y="329.3" width="146.4" height="122.6" fill="none" stroke="#a0a0a0" stroke-width="1"/><path d="M38.5 451.9v-1.6M38.5 329.3v1.6M65.12 451.9v-1.6M65.12 329.3v1.6M91.74 451.9v-1.6M91.74 329.3v1.6M118.35 451.9v-1.6M118.35 329.3v1.6M144.97 451.9v-1.6M144.97 329.3v1.6M171.59 451.9v-1.6M171.59 329.3v1.6M38.5 451.9h1.6M184.9 451.9h-1.6M38.5 427.38h1.6M184.9 427.38h-1.6M38.5 402.86h1.6M184.9 402.86h-1.6M38.5 378.34h1.6M184.9 378.34h-1.6M38.5 353.82h1.6M184.9 353.82h-1.6M38.5 329.3h1.6M184.9 329.3h-1.6" stroke="#6a6a6a" stroke-width="1" fill="none"/><path d="M38.50 448.91 L45.15 443.94 L51.81 438.96 L58.46 437.85 L65.12 437.03 L71.77 435.37 L78.43 437.58 L85.08 435.92 L91.74 437.58 L98.39 437.85 L105.05 439.24 L111.70 439.51 L118.35 439.51 L125.01 439.79 L131.66 440.07 L138.32 440.34 L144.97 442.00 L151.63 440.34 L158.28 439.24 L164.94 440.07 L171.59 440.34 L178.25 440.89 L184.90 440.62" stroke="#000000" stroke-width="2.2" fill="none" stroke-linejoin="round" stroke-linecap="butt"/><path d="M38.50 389.50 L40.16 387.82 L41.83 386.32 L43.49 385.06 L45.15 384.10 L46.82 383.41 L48.48 382.85 L50.15 382.36 L51.81 381.90 L53.47 381.41 L55.14 380.95 L56.80 380.53 L58.46 380.18 L60.13 379.87 L61.79 379.59 L63.45 379.35 L65.12 379.20 L66.78 379.10 L68.45 379.03 L70.11 378.96 L71.77 378.91 L73.44 378.86 L75.10 378.81 L76.76 378.76 L78.43 378.71 L80.09 378.64 L81.75 378.55 L83.42 378.49 L85.08 378.46 L86.75 378.52 L88.41 378.65 L90.07 378.82 L91.74 378.95 L93.40 379.06 L95.06 379.17 L96.73 379.28 L98.39 379.38 L100.05 379.47 L101.72 379.56 L103.38 379.63 L105.05 379.69 L106.71 379.73 L108.37 379.77 L110.04 379.81 L111.70 379.84 L113.36 379.87 L115.03 379.89 L116.69 379.91 L118.35 379.93 L120.02 379.96 L121.68 379.98 L123.35 380.00 L125.01 380.03 L126.67 380.06 L128.34 380.09 L130.00 380.13 L131.66 380.18 L133.33 380.24 L134.99 380.33 L136.65 380.44 L138.32 380.55 L139.98 380.66 L141.65 380.77 L143.31 380.85 L144.97 380.91 L146.64 380.96 L148.30 381.00 L149.96 381.05 L151.63 381.08 L153.29 381.11 L154.95 381.14 L156.62 381.15 L158.28 381.16 L159.95 381.14 L161.61 381.10 L163.27 381.02 L164.94 380.93 L166.60 380.81 L168.26 380.69 L169.93 380.56 L171.59 380.42 L173.25 380.27 L174.92 380.09 L176.58 379.87 L178.25 379.63 L179.91 379.37 L181.57 379.08 L183.24 378.78 L184.90 378.46" stroke="#12dc22" stroke-width="2.0" fill="none" stroke-linejoin="round" stroke-linecap="butt"/><path d="M38.50 360.56 L40.16 359.53 L41.83 358.60 L43.49 357.79 L45.15 357.13 L46.82 356.59 L48.48 356.12 L50.15 355.73 L51.81 355.41 L53.47 355.16 L55.14 354.93 L56.80 354.72 L58.46 354.54 L60.13 354.37 L61.79 354.21 L63.45 354.07 L65.12 353.94 L66.78 353.82 L68.45 353.70 L70.11 353.58 L71.77 353.47 L73.44 353.37 L75.10 353.27 L76.76 353.17 L78.43 353.08 L80.09 352.99 L81.75 352.90 L83.42 352.82 L85.08 352.75 L86.75 352.67 L88.41 352.60 L90.07 352.54 L91.74 352.47 L93.40 352.41 L95.06 352.35 L96.73 352.29 L98.39 352.23 L100.05 352.17 L101.72 352.11 L103.38 352.06 L105.05 352.00 L106.71 351.95 L108.37 351.90 L110.04 351.85 L111.70 351.80 L113.36 351.75 L115.03 351.71 L116.69 351.66 L118.35 351.62 L120.02 351.58 L121.68 351.54 L123.35 351.51 L125.01 351.48 L126.67 351.45 L128.34 351.42 L130.00 351.39 L131.66 351.37 L133.33 351.35 L134.99 351.33 L136.65 351.31 L138.32 351.29 L139.98 351.27 L141.65 351.25 L143.31 351.24 L144.97 351.22 L146.64 351.21 L148.30 351.19 L149.96 351.18 L151.63 351.17 L153.29 351.16 L154.95 351.14 L156.62 351.13 L158.28 351.12 L159.95 351.11 L161.61 351.10 L163.27 351.09 L164.94 351.08 L166.60 351.07 L168.26 351.07 L169.93 351.06 L171.59 351.05 L173.25 351.04 L174.92 351.03 L176.58 351.03 L178.25 351.02 L179.91 351.01 L181.57 351.01 L183.24 351.00 L184.90 351.00" stroke="#dc0a0a" stroke-width="2.0" fill="none" stroke-linejoin="round" stroke-linecap="butt"/><path d="M38.50 346.83 L40.16 346.09 L41.83 345.43 L43.49 344.85 L45.15 344.38 L46.82 344.00 L48.48 343.67 L50.15 343.39 L51.81 343.15 L53.47 342.95 L55.14 342.77 L56.80 342.61 L58.46 342.46 L60.13 342.32 L61.79 342.18 L63.45 342.06 L65.12 341.93 L66.78 341.80 L68.45 341.67 L70.11 341.54 L71.77 341.42 L73.44 341.30 L75.10 341.18 L76.76 341.06 L78.43 340.94 L80.09 340.83 L81.75 340.73 L83.42 340.63 L85.08 340.53 L86.75 340.44 L88.41 340.36 L90.07 340.28 L91.74 340.21 L93.40 340.15 L95.06 340.08 L96.73 340.03 L98.39 339.97 L100.05 339.91 L101.72 339.86 L103.38 339.81 L105.05 339.76 L106.71 339.72 L108.37 339.67 L110.04 339.63 L111.70 339.59 L113.36 339.54 L115.03 339.50 L116.69 339.46 L118.35 339.42 L120.02 339.39 L121.68 339.35 L123.35 339.31 L125.01 339.27 L126.67 339.23 L128.34 339.19 L130.00 339.15 L131.66 339.11 L133.33 339.07 L134.99 339.02 L136.65 338.98 L138.32 338.94 L139.98 338.89 L141.65 338.85 L143.31 338.80 L144.97 338.76 L146.64 338.72 L148.30 338.68 L149.96 338.64 L151.63 338.61 L153.29 338.58 L154.95 338.55 L156.62 338.52 L158.28 338.50 L159.95 338.47 L161.61 338.45 L163.27 338.43 L164.94 338.41 L166.60 338.39 L168.26 338.37 L169.93 338.35 L171.59 338.34 L173.25 338.32 L174.92 338.31 L176.58 338.29 L178.25 338.28 L179.91 338.27 L181.57 338.26 L183.24 338.25 L184.90 338.25" stroke="#0a0ac8" stroke-width="2.0" fill="none" stroke-linejoin="round" stroke-linecap="butt"/><path d="M38.50 340.46 L40.16 339.84 L41.83 339.29 L43.49 338.83 L45.15 338.50 L46.82 338.26 L48.48 338.08 L50.15 337.92 L51.81 337.76 L53.47 337.59 L55.14 337.42 L56.80 337.25 L58.46 337.08 L60.13 336.93 L61.79 336.78 L63.45 336.65 L65.12 336.53 L66.78 336.43 L68.45 336.33 L70.11 336.24 L71.77 336.15 L73.44 336.07 L75.10 335.99 L76.76 335.91 L78.43 335.84 L80.09 335.77 L81.75 335.70 L83.42 335.63 L85.08 335.57 L86.75 335.50 L88.41 335.44 L90.07 335.37 L91.74 335.31 L93.40 335.24 L95.06 335.18 L96.73 335.11 L98.39 335.05 L100.05 334.99 L101.72 334.93 L103.38 334.87 L105.05 334.80 L106.71 334.75 L108.37 334.69 L110.04 334.63 L111.70 334.57 L113.36 334.52 L115.03 334.46 L116.69 334.41 L118.35 334.35 L120.02 334.30 L121.68 334.25 L123.35 334.20 L125.01 334.15 L126.67 334.10 L128.34 334.05 L130.00 334.00 L131.66 333.96 L133.33 333.92 L134.99 333.88 L136.65 333.84 L138.32 333.80 L139.98 333.77 L141.65 333.73 L143.31 333.70 L144.97 333.67 L146.64 333.63 L148.30 333.60 L149.96 333.56 L151.63 333.53 L153.29 333.49 L154.95 333.44 L156.62 333.40 L158.28 333.35 L159.95 333.29 L161.61 333.23 L163.27 333.17 L164.94 333.10 L166.60 333.02 L168.26 332.95 L169.93 332.87 L171.59 332.78 L173.25 332.69 L174.92 332.60 L176.58 332.51 L178.25 332.41 L179.91 332.31 L181.57 332.21 L183.24 332.10 L184.90 332.00" stroke="#d80ad8" stroke-width="2.0" fill="none" stroke-linejoin="round" stroke-linecap="butt"/><text x="34.8" y="456.4" text-anchor="end" font-size="10.4" fill="#2a2a2a" stroke="#2a2a2a" stroke-width="0.25" transform="rotate(0.05 34.8 456.4)">0.5</text><text x="34.8" y="431.88" text-anchor="end" font-size="10.4" fill="#2a2a2a" stroke="#2a2a2a" stroke-width="0.25" transform="rotate(0.05 34.8 431.88)">0.6</text><text x="34.8" y="407.36" text-anchor="end" font-size="10.4" fill="#2a2a2a" stroke="#2a2a2a" stroke-width="0.25" transform="rotate(0.05 34.8 407.36)">0.7</text><text x="34.8" y="382.84" text-anchor="end" font-size="10.4" fill="#2a2a2a" stroke="#2a2a2a" stroke-width="0.25" transform="rotate(0.05 34.8 382.84)">0.8</text><text x="34.8" y="358.32" text-anchor="end" font-size="10.4" fill="#2a2a2a" stroke="#2a2a2a" stroke-width="0.25" transform="rotate(0.05 34.8 358.32)">0.9</text><text x="34.8" y="333.8" text-anchor="end" font-size="10.4" fill="#2a2a2a" stroke="#2a2a2a" stroke-width="0.25" transform="rotate(0.05 34.8 333.8)">1</text><text x="38.7" y="466.7" text-anchor="middle" font-size="10.4" fill="#2a2a2a" stroke="#2a2a2a" stroke-width="0.25" transform="rotate(0.05 38.7 466.7)">2</text><text x="65.32" y="466.7" text-anchor="middle" font-size="10.4" fill="#2a2a2a" stroke="#2a2a2a" stroke-width="0.25" transform="rotate(0.05 65.32 466.7)">6</text><text x="91.94" y="466.7" text-anchor="middle" font-size="10.4" fill="#2a2a2a" stroke="#2a2a2a" stroke-width="0.25" transform="rotate(0.05 91.94 466.7)">10</text><text x="118.55" y="466.7" text-anchor="middle" font-size="10.4" fill="#2a2a2a" stroke="#2a2a2a" stroke-width="0.25" transform="rotate(0.05 118.55 466.7)">14</text><text x="145.17" y="466.7" text-anchor="middle" font-size="10.4" fill="#2a2a2a" stroke="#2a2a2a" stroke-width="0.25" transform="rotate(0.05 145.17 466.7)">18</text><text x="171.79" y="466.7" text-anchor="middle" font-size="10.4" fill="#2a2a2a" stroke="#2a2a2a" stroke-width="0.25" transform="rotate(0.05 171.79 466.7)">22</text><text x="111.7" y="324.4" text-anchor="middle" font-size="11.4" fill="#111111" stroke="#111111" stroke-width="0.3" transform="rotate(0.05 111.7 324.4)">(p) GRC</text></g>
<g><rect x="218.9" y="329.3" width="145.5" height="122.6" fill="none" stroke="#a0a0a0" stroke-width="1"/><path d="M218.9 451.9v-1.6M218.9 329.3v1.6M245.35 451.9v-1.6M245.35 329.3v1.6M271.81 451.9v-1.6M271.81 329.3v1.6M298.26 451.9v-1.6M298.26 329.3v1.6M324.72 451.9v-1.6M324.72 329.3v1.6M351.17 451.9v-1.6M351.17 329.3v1.6M218.9 451.9h1.6M364.4 451.9h-1.6M218.9 427.38h1.6M364.4 427.38h-1.6M218.9 402.86h1.6M364.4 402.86h-1.6M218.9 378.34h1.6M364.4 378.34h-1.6M218.9 353.82h1.6M364.4 353.82h-1.6M218.9 329.3h1.6M364.4 329.3h-1.6" stroke="#6a6a6a" stroke-width="1" fill="none"/><path d="M218.90 448.91 L225.51 446.98 L232.13 444.21 L238.74 442.00 L245.35 441.72 L251.97 442.55 L258.58 440.07 L265.20 439.79 L271.81 440.34 L278.42 439.79 L285.04 439.79 L291.65 440.62 L298.26 439.79 L304.88 439.79 L311.49 439.79 L318.10 439.51 L324.72 439.24 L331.33 439.24 L337.95 439.51 L344.56 438.96 L351.17 437.58 L357.79 435.92 L364.40 433.16" stroke="#000000" stroke-width="2.2" fill="none" stroke-linejoin="round" stroke-linecap="butt"/><path d="M218.90 388.03 L220.55 386.73 L222.21 385.57 L223.86 384.60 L225.51 383.86 L227.17 383.32 L228.82 382.90 L230.47 382.53 L232.13 382.14 L233.78 381.66 L235.43 381.14 L237.09 380.72 L238.74 380.55 L240.39 380.55 L242.05 380.55 L243.70 380.55 L245.35 380.55 L247.01 380.31 L248.66 379.76 L250.31 379.18 L251.97 378.83 L253.62 378.70 L255.28 378.61 L256.93 378.53 L258.58 378.46 L260.24 378.38 L261.89 378.30 L263.54 378.22 L265.20 378.16 L266.85 378.11 L268.50 378.09 L270.16 378.15 L271.81 378.29 L273.46 378.46 L275.12 378.64 L276.77 378.78 L278.42 378.83 L280.08 378.82 L281.73 378.79 L283.38 378.75 L285.04 378.71 L286.69 378.66 L288.34 378.60 L290.00 378.54 L291.65 378.46 L293.30 378.39 L294.96 378.33 L296.61 378.27 L298.26 378.22 L299.92 378.18 L301.57 378.14 L303.22 378.11 L304.88 378.08 L306.53 378.06 L308.18 378.03 L309.84 378.00 L311.49 377.97 L313.14 377.94 L314.80 377.92 L316.45 377.89 L318.10 377.86 L319.76 377.83 L321.41 377.80 L323.06 377.77 L324.72 377.73 L326.37 377.68 L328.02 377.62 L329.68 377.54 L331.33 377.47 L332.99 377.38 L334.64 377.29 L336.29 377.20 L337.95 377.11 L339.60 377.02 L341.25 376.92 L342.91 376.82 L344.56 376.72 L346.21 376.61 L347.87 376.49 L349.52 376.38 L351.17 376.26 L352.83 376.13 L354.48 376.01 L356.13 375.87 L357.79 375.74 L359.44 375.60 L361.09 375.45 L362.75 375.30 L364.40 375.15" stroke="#12dc22" stroke-width="2.0" fill="none" stroke-linejoin="round" stroke-linecap="butt"/><path d="M218.90 359.83 L220.55 358.77 L222.21 357.82 L223.86 357.01 L225.51 356.39 L227.17 355.92 L228.82 355.53 L230.47 355.20 L232.13 354.92 L233.78 354.68 L235.43 354.45 L237.09 354.25 L238.74 354.06 L240.39 353.89 L242.05 353.73 L243.70 353.59 L245.35 353.45 L247.01 353.33 L248.66 353.21 L250.31 353.09 L251.97 352.98 L253.62 352.88 L255.28 352.78 L256.93 352.68 L258.58 352.59 L260.24 352.50 L261.89 352.41 L263.54 352.33 L265.20 352.26 L266.85 352.18 L268.50 352.11 L270.16 352.05 L271.81 351.98 L273.46 351.92 L275.12 351.86 L276.77 351.80 L278.42 351.75 L280.08 351.70 L281.73 351.65 L283.38 351.60 L285.04 351.55 L286.69 351.51 L288.34 351.46 L290.00 351.42 L291.65 351.38 L293.30 351.34 L294.96 351.30 L296.61 351.26 L298.26 351.22 L299.92 351.18 L301.57 351.13 L303.22 351.09 L304.88 351.05 L306.53 351.01 L308.18 350.97 L309.84 350.92 L311.49 350.88 L313.14 350.83 L314.80 350.78 L316.45 350.74 L318.10 350.69 L319.76 350.64 L321.41 350.60 L323.06 350.55 L324.72 350.50 L326.37 350.45 L328.02 350.41 L329.68 350.36 L331.33 350.32 L332.99 350.27 L334.64 350.23 L336.29 350.18 L337.95 350.14 L339.60 350.10 L341.25 350.06 L342.91 350.02 L344.56 349.98 L346.21 349.94 L347.87 349.90 L349.52 349.86 L351.17 349.82 L352.83 349.78 L354.48 349.74 L356.13 349.71 L357.79 349.67 L359.44 349.63 L361.09 349.60 L362.75 349.56 L364.40 349.53" stroke="#dc0a0a" stroke-width="2.0" fill="none" stroke-linejoin="round" stroke-linecap="butt"/><path d="M218.90 346.83 L220.55 346.09 L222.21 345.43 L223.86 344.85 L225.51 344.38 L227.17 344.00 L228.82 343.68 L230.47 343.40 L232.13 343.15 L233.78 342.92 L235.43 342.71 L237.09 342.51 L238.74 342.32 L240.39 342.14 L242.05 341.97 L243.70 341.82 L245.35 341.68 L247.01 341.55 L248.66 341.42 L250.31 341.30 L251.97 341.18 L253.62 341.07 L255.28 340.96 L256.93 340.86 L258.58 340.76 L260.24 340.66 L261.89 340.57 L263.54 340.48 L265.20 340.39 L266.85 340.31 L268.50 340.23 L270.16 340.16 L271.81 340.09 L273.46 340.02 L275.12 339.96 L276.77 339.89 L278.42 339.83 L280.08 339.77 L281.73 339.71 L283.38 339.66 L285.04 339.60 L286.69 339.55 L288.34 339.50 L290.00 339.45 L291.65 339.40 L293.30 339.35 L294.96 339.30 L296.61 339.26 L298.26 339.21 L299.92 339.17 L301.57 339.12 L303.22 339.08 L304.88 339.04 L306.53 338.99 L308.18 338.95 L309.84 338.91 L311.49 338.86 L313.14 338.82 L314.80 338.78 L316.45 338.73 L318.10 338.69 L319.76 338.65 L321.41 338.61 L323.06 338.57 L324.72 338.53 L326.37 338.49 L328.02 338.45 L329.68 338.41 L331.33 338.38 L332.99 338.34 L334.64 338.31 L336.29 338.28 L337.95 338.25 L339.60 338.22 L341.25 338.19 L342.91 338.17 L344.56 338.14 L346.21 338.11 L347.87 338.09 L349.52 338.06 L351.17 338.04 L352.83 338.02 L354.48 337.99 L356.13 337.97 L357.79 337.95 L359.44 337.93 L361.09 337.91 L362.75 337.90 L364.40 337.88" stroke="#0a0ac8" stroke-width="2.0" fill="none" stroke-linejoin="round" stroke-linecap="butt"/><path d="M218.90 340.46 L220.55 339.84 L222.21 339.29 L223.86 338.83 L225.51 338.50 L227.17 338.26 L228.82 338.08 L230.47 337.92 L232.13 337.76 L233.78 337.59 L235.43 337.42 L237.09 337.25 L238.74 337.08 L240.39 336.93 L242.05 336.78 L243.70 336.65 L245.35 336.53 L247.01 336.43 L248.66 336.33 L250.31 336.24 L251.97 336.15 L253.62 336.07 L255.28 335.99 L256.93 335.92 L258.58 335.85 L260.24 335.78 L261.89 335.71 L263.54 335.64 L265.20 335.57 L266.85 335.51 L268.50 335.44 L270.16 335.38 L271.81 335.31 L273.46 335.24 L275.12 335.17 L276.77 335.10 L278.42 335.04 L280.08 334.97 L281.73 334.90 L283.38 334.84 L285.04 334.77 L286.69 334.71 L288.34 334.65 L290.00 334.58 L291.65 334.52 L293.30 334.46 L294.96 334.40 L296.61 334.34 L298.26 334.28 L299.92 334.22 L301.57 334.16 L303.22 334.11 L304.88 334.05 L306.53 334.00 L308.18 333.94 L309.84 333.89 L311.49 333.84 L313.14 333.79 L314.80 333.74 L316.45 333.69 L318.10 333.64 L319.76 333.60 L321.41 333.55 L323.06 333.51 L324.72 333.46 L326.37 333.42 L328.02 333.38 L329.68 333.33 L331.33 333.29 L332.99 333.24 L334.64 333.20 L336.29 333.15 L337.95 333.10 L339.60 333.05 L341.25 333.00 L342.91 332.95 L344.56 332.90 L346.21 332.85 L347.87 332.79 L349.52 332.74 L351.17 332.69 L352.83 332.63 L354.48 332.58 L356.13 332.52 L357.79 332.47 L359.44 332.41 L361.09 332.36 L362.75 332.30 L364.40 332.24" stroke="#d80ad8" stroke-width="2.0" fill="none" stroke-linejoin="round" stroke-linecap="butt"/><text x="215.2" y="456.4" text-anchor="end" font-size="10.4" fill="#2a2a2a" stroke="#2a2a2a" stroke-width="0.25" transform="rotate(0.05 215.2 456.4)">0.5</text><text x="215.2" y="431.88" text-anchor="end" font-size="10.4" fill="#2a2a2a" stroke="#2a2a2a" stroke-width="0.25" transform="rotate(0.05 215.2 431.88)">0.6</text><text x="215.2" y="407.36" text-anchor="end" font-size="10.4" fill="#2a2a2a" stroke="#2a2a2a" stroke-width="0.25" transform="rotate(0.05 215.2 407.36)">0.7</text><text x="215.2" y="382.84" text-anchor="end" font-size="10.4" fill="#2a2a2a" stroke="#2a2a2a" stroke-width="0.25" transform="rotate(0.05 215.2 382.84)">0.8</text><text x="215.2" y="358.32" text-anchor="end" font-size="10.4" fill="#2a2a2a" stroke="#2a2a2a" stroke-width="0.25" transform="rotate(0.05 215.2 358.32)">0.9</text><text x="215.2" y="333.8" text-anchor="end" font-size="10.4" fill="#2a2a2a" stroke="#2a2a2a" stroke-width="0.25" transform="rotate(0.05 215.2 333.8)">1</text><text x="219.1" y="466.7" text-anchor="middle" font-size="10.4" fill="#2a2a2a" stroke="#2a2a2a" stroke-width="0.25" transform="rotate(0.05 219.1 466.7)">2</text><text x="245.55" y="466.7" text-anchor="middle" font-size="10.4" fill="#2a2a2a" stroke="#2a2a2a" stroke-width="0.25" transform="rotate(0.05 245.55 466.7)">6</text><text x="272.01" y="466.7" text-anchor="middle" font-size="10.4" fill="#2a2a2a" stroke="#2a2a2a" stroke-width="0.25" transform="rotate(0.05 272.01 466.7)">10</text><text x="298.46" y="466.7" text-anchor="middle" font-size="10.4" fill="#2a2a2a" stroke="#2a2a2a" stroke-width="0.25" transform="rotate(0.05 298.46 466.7)">14</text><text x="324.92" y="466.7" text-anchor="middle" font-size="10.4" fill="#2a2a2a" stroke="#2a2a2a" stroke-width="0.25" transform="rotate(0.05 324.92 466.7)">18</text><text x="351.37" y="466.7" text-anchor="middle" font-size="10.4" fill="#2a2a2a" stroke="#2a2a2a" stroke-width="0.25" transform="rotate(0.05 351.37 466.7)">22</text><text x="291.65" y="324.4" text-anchor="middle" font-size="11.4" fill="#111111" stroke="#111111" stroke-width="0.3" transform="rotate(0.05 291.65 324.4)">(q) BMA</text></g>
<g><rect x="398.5" y="329.3" width="146.4" height="122.6" fill="none" stroke="#a0a0a0" stroke-width="1"/><path d="M398.5 451.9v-1.6M398.5 329.3v1.6M425.12 451.9v-1.6M425.12 329.3v1.6M451.74 451.9v-1.6M451.74 329.3v1.6M478.35 451.9v-1.6M478.35 329.3v1.6M504.97 451.9v-1.6M504.97 329.3v1.6M531.59 451.9v-1.6M531.59 329.3v1.6M398.5 451.9h1.6M544.9 451.9h-1.6M398.5 427.38h1.6M544.9 427.38h-1.6M398.5 402.86h1.6M544.9 402.86h-1.6M398.5 378.34h1.6M544.9 378.34h-1.6M398.5 353.82h1.6M544.9 353.82h-1.6M398.5 329.3h1.6M544.9 329.3h-1.6" stroke="#6a6a6a" stroke-width="1" fill="none"/><path d="M398.50 356.03 L405.15 358.24 L411.81 359.90 L418.46 361.84 L425.12 362.94 L431.77 364.60 L438.43 366.26 L445.08 367.36 L451.74 367.92 L458.39 367.36 L465.05 368.19 L471.70 369.02 L478.35 369.85 L485.01 371.23 L491.66 372.34 L498.32 371.79 L504.97 372.06 L511.63 372.62 L518.28 373.45 L524.94 373.72 L531.59 374.00 L538.25 374.00 L544.90 374.00" stroke="#000000" stroke-width="2.2" fill="none" stroke-linejoin="round" stroke-linecap="butt"/><path d="M398.50 332.24 L400.16 332.31 L401.83 332.38 L403.49 332.45 L405.15 332.52 L406.82 332.58 L408.48 332.64 L410.15 332.69 L411.81 332.73 L413.47 332.77 L415.14 332.81 L416.80 332.85 L418.46 332.89 L420.13 332.92 L421.79 332.95 L423.45 332.99 L425.12 333.02 L426.78 333.05 L428.45 333.07 L430.11 333.10 L431.77 333.13 L433.44 333.15 L435.10 333.18 L436.76 333.20 L438.43 333.22 L440.09 333.25 L441.75 333.27 L443.42 333.29 L445.08 333.31 L446.75 333.32 L448.41 333.34 L450.07 333.36 L451.74 333.38 L453.40 333.39 L455.06 333.41 L456.73 333.42 L458.39 333.44 L460.05 333.46 L461.72 333.47 L463.38 333.49 L465.05 333.51 L466.71 333.53 L468.37 333.55 L470.04 333.57 L471.70 333.59 L473.36 333.61 L475.03 333.64 L476.69 333.67 L478.35 333.69 L480.02 333.72 L481.68 333.75 L483.35 333.78 L485.01 333.81 L486.67 333.85 L488.34 333.88 L490.00 333.91 L491.66 333.94 L493.33 333.98 L494.99 334.01 L496.65 334.04 L498.32 334.08 L499.98 334.11 L501.65 334.14 L503.31 334.17 L504.97 334.20 L506.64 334.23 L508.30 334.27 L509.96 334.30 L511.63 334.33 L513.29 334.36 L514.95 334.39 L516.62 334.42 L518.28 334.45 L519.95 334.48 L521.61 334.51 L523.27 334.54 L524.94 334.57 L526.60 334.60 L528.26 334.63 L529.93 334.66 L531.59 334.69 L533.25 334.73 L534.92 334.76 L536.58 334.79 L538.25 334.82 L539.91 334.85 L541.57 334.88 L543.24 334.91 L544.90 334.94" stroke="#12dc22" stroke-width="2.0" fill="none" stroke-linejoin="round" stroke-linecap="butt"/><path d="M398.50 328.81 L544.90 328.81" stroke="#d80ad8" stroke-width="2.0" fill="none" stroke-linejoin="round" stroke-linecap="butt"/><text x="394.8" y="456.4" text-anchor="end" font-size="10.4" fill="#2a2a2a" stroke="#2a2a2a" stroke-width="0.25" transform="rotate(0.05 394.8 456.4)">0.5</text><text x="394.8" y="431.88" text-anchor="end" font-size="10.4" fill="#2a2a2a" stroke="#2a2a2a" stroke-width="0.25" transform="rotate(0.05 394.8 431.88)">0.6</text><text x="394.8" y="407.36" text-anchor="end" font-size="10.4" fill="#2a2a2a" stroke="#2a2a2a" stroke-width="0.25" transform="rotate(0.05 394.8 407.36)">0.7</text><text x="394.8" y="382.84" text-anchor="end" font-size="10.4" fill="#2a2a2a" stroke="#2a2a2a" stroke-width="0.25" transform="rotate(0.05 394.8 382.84)">0.8</text><text x="394.8" y="358.32" text-anchor="end" font-size="10.4" fill="#2a2a2a" stroke="#2a2a2a" stroke-width="0.25" transform="rotate(0.05 394.8 358.32)">0.9</text><text x="394.8" y="333.8" text-anchor="end" font-size="10.4" fill="#2a2a2a" stroke="#2a2a2a" stroke-width="0.25" transform="rotate(0.05 394.8 333.8)">1</text><text x="398.7" y="466.7" text-anchor="middle" font-size="10.4" fill="#2a2a2a" stroke="#2a2a2a" stroke-width="0.25" transform="rotate(0.05 398.7 466.7)">2</text><text x="425.32" y="466.7" text-anchor="middle" font-size="10.4" fill="#2a2a2a" stroke="#2a2a2a" stroke-width="0.25" transform="rotate(0.05 425.32 466.7)">6</text><text x="451.94" y="466.7" text-anchor="middle" font-size="10.4" fill="#2a2a2a" stroke="#2a2a2a" stroke-width="0.25" transform="rotate(0.05 451.94 466.7)">10</text><text x="478.55" y="466.7" text-anchor="middle" font-size="10.4" fill="#2a2a2a" stroke="#2a2a2a" stroke-width="0.25" transform="rotate(0.05 478.55 466.7)">14</text><text x="505.17" y="466.7" text-anchor="middle" font-size="10.4" fill="#2a2a2a" stroke="#2a2a2a" stroke-width="0.25" transform="rotate(0.05 505.17 466.7)">18</text><text x="531.79" y="466.7" text-anchor="middle" font-size="10.4" fill="#2a2a2a" stroke="#2a2a2a" stroke-width="0.25" transform="rotate(0.05 531.79 466.7)">22</text><text x="471.7" y="324.4" text-anchor="middle" font-size="11.4" fill="#111111" stroke="#111111" stroke-width="0.3" transform="rotate(0.05 471.7 324.4)">(r) MMSE</text></g>
<text transform="translate(13.9,243) rotate(-89.95)" text-anchor="middle" font-size="12.5" fill="#1a1a1a" stroke="#1a1a1a" stroke-width="0.25">AVE</text>
<text x="304.7" y="487.2" text-anchor="middle" font-size="12.2" font-weight="bold" fill="#000" stroke="#000" stroke-width="0.2" transform="rotate(0.05 304.7 487.2)">Number of members</text>
<path d="M7.1 499.1h26" stroke="#000000" stroke-width="2"/>
<text x="35.9" y="504.2" font-size="12.1" fill="#111" stroke="#111" stroke-width="0.3" transform="rotate(0.05 35.9 504.2)">10th quantiles</text>
<path d="M115.15 499.1h26" stroke="#12dc22" stroke-width="2"/>
<text x="143.95" y="504.2" font-size="12.1" fill="#111" stroke="#111" stroke-width="0.3" transform="rotate(0.05 143.95 504.2)">25th quantiles</text>
<path d="M223.2 499.1h26" stroke="#dc0a0a" stroke-width="2"/>
<text x="252" y="504.2" font-size="12.1" fill="#111" stroke="#111" stroke-width="0.3" transform="rotate(0.05 252 504.2)">50th quantiles</text>
<path d="M331.25 499.1h26" stroke="#0a0ac8" stroke-width="2"/>
<text x="360.05" y="504.2" font-size="12.1" fill="#111" stroke="#111" stroke-width="0.3" transform="rotate(0.05 360.05 504.2)">75th quantiles</text>
<path d="M439.3 499.1h26" stroke="#d80ad8" stroke-width="2"/>
<text x="468.1" y="504.2" font-size="12.1" fill="#111" stroke="#111" stroke-width="0.3" transform="rotate(0.05 468.1 504.2)">90th quantiles</text>
</g>
</svg>
</body></html>
